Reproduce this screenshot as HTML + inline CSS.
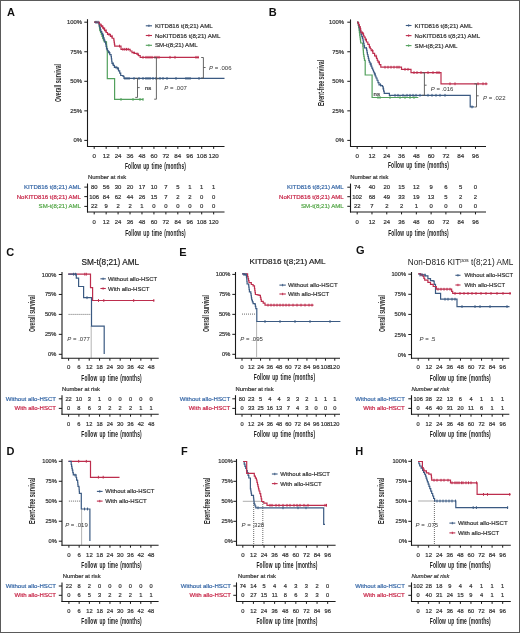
<!DOCTYPE html>
<html><head><meta charset="utf-8"><style>
html,body{margin:0;padding:0;background:#fff;overflow:hidden;}
svg{display:block;font-family:"Liberation Sans", sans-serif;will-change:transform;}
</style></head><body>
<svg width="520" height="633" viewBox="0 0 520 633">
<rect width="520" height="633" fill="#fff"/>
<text x="6.90" y="15.90" font-size="11.0" fill="#111" font-weight="bold">A</text>
<line x1="87.50" y1="19.20" x2="87.50" y2="147.00" stroke="#1a1a1a" stroke-width="1.1"/>
<line x1="87.00" y1="146.50" x2="224.50" y2="146.50" stroke="#1a1a1a" stroke-width="1.1"/>
<line x1="84.30" y1="140.40" x2="87.50" y2="140.40" stroke="#1a1a1a" stroke-width="1.0"/>
<text x="82.00" y="140.40" font-size="5.9" fill="#333" stroke="#333" stroke-width="0.2" text-anchor="end" dominant-baseline="central">0%</text>
<line x1="84.30" y1="110.85" x2="87.50" y2="110.85" stroke="#1a1a1a" stroke-width="1.0"/>
<text x="82.00" y="110.85" font-size="5.9" fill="#333" stroke="#333" stroke-width="0.2" text-anchor="end" dominant-baseline="central">25%</text>
<line x1="84.30" y1="81.30" x2="87.50" y2="81.30" stroke="#1a1a1a" stroke-width="1.0"/>
<text x="82.00" y="81.30" font-size="5.9" fill="#333" stroke="#333" stroke-width="0.2" text-anchor="end" dominant-baseline="central">50%</text>
<line x1="84.30" y1="51.75" x2="87.50" y2="51.75" stroke="#1a1a1a" stroke-width="1.0"/>
<text x="82.00" y="51.75" font-size="5.9" fill="#333" stroke="#333" stroke-width="0.2" text-anchor="end" dominant-baseline="central">75%</text>
<line x1="84.30" y1="22.20" x2="87.50" y2="22.20" stroke="#1a1a1a" stroke-width="1.0"/>
<text x="82.00" y="22.20" font-size="5.9" fill="#333" stroke="#333" stroke-width="0.2" text-anchor="end" dominant-baseline="central">100%</text>
<line x1="94.20" y1="146.50" x2="94.20" y2="148.90" stroke="#1a1a1a" stroke-width="1.0"/>
<text x="94.20" y="155.30" font-size="6.2" fill="#333" stroke="#333" stroke-width="0.2" text-anchor="middle" dominant-baseline="central">0</text>
<line x1="106.15" y1="146.50" x2="106.15" y2="148.90" stroke="#1a1a1a" stroke-width="1.0"/>
<text x="106.15" y="155.30" font-size="6.2" fill="#333" stroke="#333" stroke-width="0.2" text-anchor="middle" dominant-baseline="central">12</text>
<line x1="118.09" y1="146.50" x2="118.09" y2="148.90" stroke="#1a1a1a" stroke-width="1.0"/>
<text x="118.09" y="155.30" font-size="6.2" fill="#333" stroke="#333" stroke-width="0.2" text-anchor="middle" dominant-baseline="central">24</text>
<line x1="130.04" y1="146.50" x2="130.04" y2="148.90" stroke="#1a1a1a" stroke-width="1.0"/>
<text x="130.04" y="155.30" font-size="6.2" fill="#333" stroke="#333" stroke-width="0.2" text-anchor="middle" dominant-baseline="central">36</text>
<line x1="141.98" y1="146.50" x2="141.98" y2="148.90" stroke="#1a1a1a" stroke-width="1.0"/>
<text x="141.98" y="155.30" font-size="6.2" fill="#333" stroke="#333" stroke-width="0.2" text-anchor="middle" dominant-baseline="central">48</text>
<line x1="153.93" y1="146.50" x2="153.93" y2="148.90" stroke="#1a1a1a" stroke-width="1.0"/>
<text x="153.93" y="155.30" font-size="6.2" fill="#333" stroke="#333" stroke-width="0.2" text-anchor="middle" dominant-baseline="central">60</text>
<line x1="165.88" y1="146.50" x2="165.88" y2="148.90" stroke="#1a1a1a" stroke-width="1.0"/>
<text x="165.88" y="155.30" font-size="6.2" fill="#333" stroke="#333" stroke-width="0.2" text-anchor="middle" dominant-baseline="central">72</text>
<line x1="177.82" y1="146.50" x2="177.82" y2="148.90" stroke="#1a1a1a" stroke-width="1.0"/>
<text x="177.82" y="155.30" font-size="6.2" fill="#333" stroke="#333" stroke-width="0.2" text-anchor="middle" dominant-baseline="central">84</text>
<line x1="189.77" y1="146.50" x2="189.77" y2="148.90" stroke="#1a1a1a" stroke-width="1.0"/>
<text x="189.77" y="155.30" font-size="6.2" fill="#333" stroke="#333" stroke-width="0.2" text-anchor="middle" dominant-baseline="central">96</text>
<line x1="201.71" y1="146.50" x2="201.71" y2="148.90" stroke="#1a1a1a" stroke-width="1.0"/>
<text x="201.71" y="155.30" font-size="6.2" fill="#333" stroke="#333" stroke-width="0.2" text-anchor="middle" dominant-baseline="central">108</text>
<line x1="213.66" y1="146.50" x2="213.66" y2="148.90" stroke="#1a1a1a" stroke-width="1.0"/>
<text x="213.66" y="155.30" font-size="6.2" fill="#333" stroke="#333" stroke-width="0.2" text-anchor="middle" dominant-baseline="central">120</text>
<text x="58.70" y="83.00" font-size="8.2" fill="#2a2a2a" text-anchor="middle" font-weight="bold" textLength="38.00" lengthAdjust="spacingAndGlyphs" dominant-baseline="central" transform="rotate(-90 58.70 83.00)">Overall survival</text>
<path d="M94.20 22.20H96.50V22.40H98.80V22.60H99.05V24.60H99.30V26.60H99.55V28.60H99.80V30.60H100.55V32.50H101.30V34.40H102.00V36.35H102.70V38.30H103.40V39.95H104.10V41.60H106.00V42.10H106.50V45.00H106.70V46.92H106.90V48.85H107.10V50.78H107.30V52.70V78.70H114.60V99.40H143.30" fill="none" stroke="#52a05c" stroke-width="1.2" stroke-linejoin="miter"/>
<path d="M94.20 22.20H96.00V22.60H99.30V25.80H99.80V27.70H100.30V29.60H100.80V31.50H101.75V33.45H102.70V35.40H103.40V37.80H104.10V40.20H104.85V42.10H105.60V44.00H106.05V46.40H106.50V48.80H107.50V50.75H108.50V52.70H109.80V54.70H111.10V56.70H111.40V58.97H111.70V61.23H112.00V63.50H113.20V65.40H114.40V67.30H117.30V68.80H118.50V70.95H119.70V73.10H120.70V75.50H123.10V76.40H124.00V78.40H224.50" fill="none" stroke="#3b5a82" stroke-width="1.2" stroke-linejoin="miter"/>
<path d="M94.20 22.20H97.50H99.15V24.00H100.80V25.80H102.70V28.20H104.60V30.60H106.05V32.50H107.50V34.40H110.40V36.30H112.10V38.25H113.80V40.20H114.10V42.17H114.40V44.13H114.70V46.10H120.50H121.00V49.30H128.20H130.10V51.00H132.00V52.70H134.40V53.40H136.80V54.10H138.50V55.70H140.20V57.30H199.00" fill="none" stroke="#bd2d4d" stroke-width="1.2" stroke-linejoin="miter"/>
<line x1="101.50" y1="24.40" x2="101.50" y2="27.20" stroke="#bd2d4d" stroke-width="1.0"/>
<line x1="103.50" y1="26.80" x2="103.50" y2="29.60" stroke="#bd2d4d" stroke-width="1.0"/>
<line x1="106.00" y1="29.20" x2="106.00" y2="32.00" stroke="#bd2d4d" stroke-width="1.0"/>
<line x1="109.00" y1="33.00" x2="109.00" y2="35.80" stroke="#bd2d4d" stroke-width="1.0"/>
<line x1="112.00" y1="34.90" x2="112.00" y2="37.70" stroke="#bd2d4d" stroke-width="1.0"/>
<line x1="119.50" y1="44.70" x2="119.50" y2="47.50" stroke="#bd2d4d" stroke-width="1.0"/>
<line x1="122.90" y1="47.90" x2="122.90" y2="50.70" stroke="#bd2d4d" stroke-width="1.0"/>
<line x1="124.80" y1="47.90" x2="124.80" y2="50.70" stroke="#bd2d4d" stroke-width="1.0"/>
<line x1="126.50" y1="47.90" x2="126.50" y2="50.70" stroke="#bd2d4d" stroke-width="1.0"/>
<line x1="128.20" y1="47.90" x2="128.20" y2="50.70" stroke="#bd2d4d" stroke-width="1.0"/>
<line x1="134.00" y1="51.30" x2="134.00" y2="54.10" stroke="#bd2d4d" stroke-width="1.0"/>
<line x1="137.80" y1="52.70" x2="137.80" y2="55.50" stroke="#bd2d4d" stroke-width="1.0"/>
<line x1="103.00" y1="34.00" x2="103.00" y2="36.80" stroke="#3b5a82" stroke-width="1.0"/>
<line x1="109.50" y1="51.30" x2="109.50" y2="54.10" stroke="#3b5a82" stroke-width="1.0"/>
<line x1="113.00" y1="62.10" x2="113.00" y2="64.90" stroke="#3b5a82" stroke-width="1.0"/>
<line x1="116.00" y1="65.90" x2="116.00" y2="68.70" stroke="#3b5a82" stroke-width="1.0"/>
<line x1="118.50" y1="67.40" x2="118.50" y2="70.20" stroke="#3b5a82" stroke-width="1.0"/>
<line x1="143.00" y1="55.90" x2="143.00" y2="58.70" stroke="#bd2d4d" stroke-width="1.0"/>
<line x1="146.00" y1="55.90" x2="146.00" y2="58.70" stroke="#bd2d4d" stroke-width="1.0"/>
<line x1="148.00" y1="55.90" x2="148.00" y2="58.70" stroke="#bd2d4d" stroke-width="1.0"/>
<line x1="150.00" y1="55.90" x2="150.00" y2="58.70" stroke="#bd2d4d" stroke-width="1.0"/>
<line x1="152.00" y1="55.90" x2="152.00" y2="58.70" stroke="#bd2d4d" stroke-width="1.0"/>
<line x1="155.00" y1="55.90" x2="155.00" y2="58.70" stroke="#bd2d4d" stroke-width="1.0"/>
<line x1="157.00" y1="55.90" x2="157.00" y2="58.70" stroke="#bd2d4d" stroke-width="1.0"/>
<line x1="159.00" y1="55.90" x2="159.00" y2="58.70" stroke="#bd2d4d" stroke-width="1.0"/>
<line x1="170.00" y1="55.90" x2="170.00" y2="58.70" stroke="#bd2d4d" stroke-width="1.0"/>
<line x1="175.00" y1="55.90" x2="175.00" y2="58.70" stroke="#bd2d4d" stroke-width="1.0"/>
<line x1="196.00" y1="55.90" x2="196.00" y2="58.70" stroke="#bd2d4d" stroke-width="1.0"/>
<line x1="198.00" y1="55.90" x2="198.00" y2="58.70" stroke="#bd2d4d" stroke-width="1.0"/>
<line x1="125.00" y1="77.00" x2="125.00" y2="79.80" stroke="#3b5a82" stroke-width="1.0"/>
<line x1="127.00" y1="77.00" x2="127.00" y2="79.80" stroke="#3b5a82" stroke-width="1.0"/>
<line x1="129.00" y1="77.00" x2="129.00" y2="79.80" stroke="#3b5a82" stroke-width="1.0"/>
<line x1="134.00" y1="77.00" x2="134.00" y2="79.80" stroke="#3b5a82" stroke-width="1.0"/>
<line x1="139.00" y1="77.00" x2="139.00" y2="79.80" stroke="#3b5a82" stroke-width="1.0"/>
<line x1="143.00" y1="77.00" x2="143.00" y2="79.80" stroke="#3b5a82" stroke-width="1.0"/>
<line x1="146.00" y1="77.00" x2="146.00" y2="79.80" stroke="#3b5a82" stroke-width="1.0"/>
<line x1="148.00" y1="77.00" x2="148.00" y2="79.80" stroke="#3b5a82" stroke-width="1.0"/>
<line x1="150.00" y1="77.00" x2="150.00" y2="79.80" stroke="#3b5a82" stroke-width="1.0"/>
<line x1="153.00" y1="77.00" x2="153.00" y2="79.80" stroke="#3b5a82" stroke-width="1.0"/>
<line x1="156.00" y1="77.00" x2="156.00" y2="79.80" stroke="#3b5a82" stroke-width="1.0"/>
<line x1="160.00" y1="77.00" x2="160.00" y2="79.80" stroke="#3b5a82" stroke-width="1.0"/>
<line x1="163.00" y1="77.00" x2="163.00" y2="79.80" stroke="#3b5a82" stroke-width="1.0"/>
<line x1="167.00" y1="77.00" x2="167.00" y2="79.80" stroke="#3b5a82" stroke-width="1.0"/>
<line x1="176.00" y1="77.00" x2="176.00" y2="79.80" stroke="#3b5a82" stroke-width="1.0"/>
<line x1="186.00" y1="77.00" x2="186.00" y2="79.80" stroke="#3b5a82" stroke-width="1.0"/>
<line x1="188.00" y1="77.00" x2="188.00" y2="79.80" stroke="#3b5a82" stroke-width="1.0"/>
<line x1="190.00" y1="77.00" x2="190.00" y2="79.80" stroke="#3b5a82" stroke-width="1.0"/>
<line x1="199.00" y1="77.00" x2="199.00" y2="79.80" stroke="#3b5a82" stroke-width="1.0"/>
<line x1="121.00" y1="98.00" x2="121.00" y2="100.80" stroke="#52a05c" stroke-width="1.0"/>
<line x1="133.00" y1="98.00" x2="133.00" y2="100.80" stroke="#52a05c" stroke-width="1.0"/>
<line x1="140.00" y1="98.00" x2="140.00" y2="100.80" stroke="#52a05c" stroke-width="1.0"/>
<line x1="143.00" y1="98.00" x2="143.00" y2="100.80" stroke="#52a05c" stroke-width="1.0"/>
<line x1="96.00" y1="20.80" x2="96.00" y2="23.60" stroke="#3b5a82" stroke-width="1.0"/>
<line x1="98.00" y1="20.80" x2="98.00" y2="23.60" stroke="#3b5a82" stroke-width="1.0"/>
<line x1="135.30" y1="78.40" x2="137.50" y2="78.40" stroke="#555" stroke-width="0.9"/>
<line x1="137.50" y1="78.40" x2="137.50" y2="97.40" stroke="#555" stroke-width="0.9"/>
<line x1="135.30" y1="97.40" x2="137.50" y2="97.40" stroke="#555" stroke-width="0.9"/>
<line x1="137.50" y1="87.60" x2="139.70" y2="87.60" stroke="#555" stroke-width="0.9"/>
<text x="145.00" y="87.80" font-size="6.0" fill="#333" stroke="#333" stroke-width="0.2" dominant-baseline="central">ns</text>
<line x1="154.20" y1="57.50" x2="156.40" y2="57.50" stroke="#555" stroke-width="0.9"/>
<line x1="156.40" y1="57.50" x2="156.40" y2="99.20" stroke="#555" stroke-width="0.9"/>
<line x1="154.20" y1="99.20" x2="156.40" y2="99.20" stroke="#555" stroke-width="0.9"/>
<line x1="156.40" y1="78.80" x2="158.60" y2="78.80" stroke="#555" stroke-width="0.9"/>
<text x="164.30" y="87.60" font-size="6.0" fill="#333" dominant-baseline="central"><tspan font-style="italic">P</tspan> = .007</text>
<line x1="201.20" y1="57.50" x2="203.40" y2="57.50" stroke="#555" stroke-width="0.9"/>
<line x1="203.40" y1="57.50" x2="203.40" y2="78.00" stroke="#555" stroke-width="0.9"/>
<line x1="201.20" y1="78.00" x2="203.40" y2="78.00" stroke="#555" stroke-width="0.9"/>
<line x1="203.40" y1="67.50" x2="205.60" y2="67.50" stroke="#555" stroke-width="0.9"/>
<text x="209.00" y="67.80" font-size="6.0" fill="#333" dominant-baseline="central"><tspan font-style="italic">P</tspan> = .006</text>
<line x1="145.80" y1="25.80" x2="152.00" y2="25.80" stroke="#3b5a82" stroke-width="1.1"/>
<line x1="148.90" y1="24.60" x2="148.90" y2="27.00" stroke="#3b5a82" stroke-width="0.9"/>
<text x="154.90" y="25.80" font-size="6.0" fill="#333" stroke="#333" stroke-width="0.2" textLength="57.80" lengthAdjust="spacingAndGlyphs" dominant-baseline="central">KITD816 t(8;21) AML</text>
<line x1="145.80" y1="35.50" x2="152.00" y2="35.50" stroke="#bd2d4d" stroke-width="1.1"/>
<line x1="148.90" y1="34.30" x2="148.90" y2="36.70" stroke="#bd2d4d" stroke-width="0.9"/>
<text x="154.90" y="35.50" font-size="6.0" fill="#333" stroke="#333" stroke-width="0.2" textLength="65.50" lengthAdjust="spacingAndGlyphs" dominant-baseline="central">NoKITD816 t(8;21) AML</text>
<line x1="145.80" y1="45.30" x2="152.00" y2="45.30" stroke="#52a05c" stroke-width="1.1"/>
<line x1="148.90" y1="44.10" x2="148.90" y2="46.50" stroke="#52a05c" stroke-width="0.9"/>
<text x="154.90" y="45.30" font-size="6.0" fill="#333" stroke="#333" stroke-width="0.2" textLength="42.80" lengthAdjust="spacingAndGlyphs" dominant-baseline="central">SM-t(8;21) AML</text>
<text x="155.50" y="166.60" font-size="8.2" fill="#222" word-spacing="1.2" letter-spacing="0.2" text-anchor="middle" font-weight="bold" textLength="61.00" lengthAdjust="spacingAndGlyphs" dominant-baseline="central">Follow up time (months)</text>
<text x="88.00" y="177.00" font-size="5.9" fill="#333" stroke="#333" stroke-width="0.2" dominant-baseline="central">Number at risk</text>
<line x1="87.50" y1="183.50" x2="87.50" y2="212.50" stroke="#1a1a1a" stroke-width="1.1"/>
<line x1="87.00" y1="212.00" x2="224.50" y2="212.00" stroke="#1a1a1a" stroke-width="1.1"/>
<line x1="84.30" y1="187.10" x2="87.50" y2="187.10" stroke="#1a1a1a" stroke-width="1.0"/>
<text x="81.00" y="187.10" font-size="5.9" fill="#3a6aa8" stroke="#3a6aa8" stroke-width="0.2" text-anchor="end" textLength="57.00" lengthAdjust="spacingAndGlyphs" dominant-baseline="central">KITD816 t(8;21) AML</text>
<text x="94.20" y="187.10" font-size="5.9" fill="#333" stroke="#333" stroke-width="0.2" text-anchor="middle" dominant-baseline="central">80</text>
<text x="106.15" y="187.10" font-size="5.9" fill="#333" stroke="#333" stroke-width="0.2" text-anchor="middle" dominant-baseline="central">56</text>
<text x="118.09" y="187.10" font-size="5.9" fill="#333" stroke="#333" stroke-width="0.2" text-anchor="middle" dominant-baseline="central">30</text>
<text x="130.04" y="187.10" font-size="5.9" fill="#333" stroke="#333" stroke-width="0.2" text-anchor="middle" dominant-baseline="central">20</text>
<text x="141.98" y="187.10" font-size="5.9" fill="#333" stroke="#333" stroke-width="0.2" text-anchor="middle" dominant-baseline="central">17</text>
<text x="153.93" y="187.10" font-size="5.9" fill="#333" stroke="#333" stroke-width="0.2" text-anchor="middle" dominant-baseline="central">10</text>
<text x="165.88" y="187.10" font-size="5.9" fill="#333" stroke="#333" stroke-width="0.2" text-anchor="middle" dominant-baseline="central">7</text>
<text x="177.82" y="187.10" font-size="5.9" fill="#333" stroke="#333" stroke-width="0.2" text-anchor="middle" dominant-baseline="central">5</text>
<text x="189.77" y="187.10" font-size="5.9" fill="#333" stroke="#333" stroke-width="0.2" text-anchor="middle" dominant-baseline="central">1</text>
<text x="201.71" y="187.10" font-size="5.9" fill="#333" stroke="#333" stroke-width="0.2" text-anchor="middle" dominant-baseline="central">1</text>
<text x="213.66" y="187.10" font-size="5.9" fill="#333" stroke="#333" stroke-width="0.2" text-anchor="middle" dominant-baseline="central">1</text>
<line x1="84.30" y1="196.60" x2="87.50" y2="196.60" stroke="#1a1a1a" stroke-width="1.0"/>
<text x="81.00" y="196.60" font-size="5.9" fill="#c8284a" stroke="#c8284a" stroke-width="0.2" text-anchor="end" textLength="64.30" lengthAdjust="spacingAndGlyphs" dominant-baseline="central">NoKITD816 t(8;21) AML</text>
<text x="94.20" y="196.60" font-size="5.9" fill="#333" stroke="#333" stroke-width="0.2" text-anchor="middle" dominant-baseline="central">106</text>
<text x="106.15" y="196.60" font-size="5.9" fill="#333" stroke="#333" stroke-width="0.2" text-anchor="middle" dominant-baseline="central">84</text>
<text x="118.09" y="196.60" font-size="5.9" fill="#333" stroke="#333" stroke-width="0.2" text-anchor="middle" dominant-baseline="central">62</text>
<text x="130.04" y="196.60" font-size="5.9" fill="#333" stroke="#333" stroke-width="0.2" text-anchor="middle" dominant-baseline="central">44</text>
<text x="141.98" y="196.60" font-size="5.9" fill="#333" stroke="#333" stroke-width="0.2" text-anchor="middle" dominant-baseline="central">26</text>
<text x="153.93" y="196.60" font-size="5.9" fill="#333" stroke="#333" stroke-width="0.2" text-anchor="middle" dominant-baseline="central">15</text>
<text x="165.88" y="196.60" font-size="5.9" fill="#333" stroke="#333" stroke-width="0.2" text-anchor="middle" dominant-baseline="central">7</text>
<text x="177.82" y="196.60" font-size="5.9" fill="#333" stroke="#333" stroke-width="0.2" text-anchor="middle" dominant-baseline="central">2</text>
<text x="189.77" y="196.60" font-size="5.9" fill="#333" stroke="#333" stroke-width="0.2" text-anchor="middle" dominant-baseline="central">2</text>
<text x="201.71" y="196.60" font-size="5.9" fill="#333" stroke="#333" stroke-width="0.2" text-anchor="middle" dominant-baseline="central">0</text>
<text x="213.66" y="196.60" font-size="5.9" fill="#333" stroke="#333" stroke-width="0.2" text-anchor="middle" dominant-baseline="central">0</text>
<line x1="84.30" y1="206.40" x2="87.50" y2="206.40" stroke="#1a1a1a" stroke-width="1.0"/>
<text x="81.00" y="206.40" font-size="5.9" fill="#56a84a" stroke="#56a84a" stroke-width="0.2" text-anchor="end" textLength="42.40" lengthAdjust="spacingAndGlyphs" dominant-baseline="central">SM-t(8;21) AML</text>
<text x="94.20" y="206.40" font-size="5.9" fill="#333" stroke="#333" stroke-width="0.2" text-anchor="middle" dominant-baseline="central">22</text>
<text x="106.15" y="206.40" font-size="5.9" fill="#333" stroke="#333" stroke-width="0.2" text-anchor="middle" dominant-baseline="central">9</text>
<text x="118.09" y="206.40" font-size="5.9" fill="#333" stroke="#333" stroke-width="0.2" text-anchor="middle" dominant-baseline="central">2</text>
<text x="130.04" y="206.40" font-size="5.9" fill="#333" stroke="#333" stroke-width="0.2" text-anchor="middle" dominant-baseline="central">2</text>
<text x="141.98" y="206.40" font-size="5.9" fill="#333" stroke="#333" stroke-width="0.2" text-anchor="middle" dominant-baseline="central">1</text>
<text x="153.93" y="206.40" font-size="5.9" fill="#333" stroke="#333" stroke-width="0.2" text-anchor="middle" dominant-baseline="central">0</text>
<text x="165.88" y="206.40" font-size="5.9" fill="#333" stroke="#333" stroke-width="0.2" text-anchor="middle" dominant-baseline="central">0</text>
<text x="177.82" y="206.40" font-size="5.9" fill="#333" stroke="#333" stroke-width="0.2" text-anchor="middle" dominant-baseline="central">0</text>
<text x="189.77" y="206.40" font-size="5.9" fill="#333" stroke="#333" stroke-width="0.2" text-anchor="middle" dominant-baseline="central">0</text>
<text x="201.71" y="206.40" font-size="5.9" fill="#333" stroke="#333" stroke-width="0.2" text-anchor="middle" dominant-baseline="central">0</text>
<text x="213.66" y="206.40" font-size="5.9" fill="#333" stroke="#333" stroke-width="0.2" text-anchor="middle" dominant-baseline="central">0</text>
<line x1="94.20" y1="212.00" x2="94.20" y2="214.40" stroke="#1a1a1a" stroke-width="1.0"/>
<text x="94.20" y="221.60" font-size="5.9" fill="#333" stroke="#333" stroke-width="0.2" text-anchor="middle" dominant-baseline="central">0</text>
<line x1="106.15" y1="212.00" x2="106.15" y2="214.40" stroke="#1a1a1a" stroke-width="1.0"/>
<text x="106.15" y="221.60" font-size="5.9" fill="#333" stroke="#333" stroke-width="0.2" text-anchor="middle" dominant-baseline="central">12</text>
<line x1="118.09" y1="212.00" x2="118.09" y2="214.40" stroke="#1a1a1a" stroke-width="1.0"/>
<text x="118.09" y="221.60" font-size="5.9" fill="#333" stroke="#333" stroke-width="0.2" text-anchor="middle" dominant-baseline="central">24</text>
<line x1="130.04" y1="212.00" x2="130.04" y2="214.40" stroke="#1a1a1a" stroke-width="1.0"/>
<text x="130.04" y="221.60" font-size="5.9" fill="#333" stroke="#333" stroke-width="0.2" text-anchor="middle" dominant-baseline="central">36</text>
<line x1="141.98" y1="212.00" x2="141.98" y2="214.40" stroke="#1a1a1a" stroke-width="1.0"/>
<text x="141.98" y="221.60" font-size="5.9" fill="#333" stroke="#333" stroke-width="0.2" text-anchor="middle" dominant-baseline="central">48</text>
<line x1="153.93" y1="212.00" x2="153.93" y2="214.40" stroke="#1a1a1a" stroke-width="1.0"/>
<text x="153.93" y="221.60" font-size="5.9" fill="#333" stroke="#333" stroke-width="0.2" text-anchor="middle" dominant-baseline="central">60</text>
<line x1="165.88" y1="212.00" x2="165.88" y2="214.40" stroke="#1a1a1a" stroke-width="1.0"/>
<text x="165.88" y="221.60" font-size="5.9" fill="#333" stroke="#333" stroke-width="0.2" text-anchor="middle" dominant-baseline="central">72</text>
<line x1="177.82" y1="212.00" x2="177.82" y2="214.40" stroke="#1a1a1a" stroke-width="1.0"/>
<text x="177.82" y="221.60" font-size="5.9" fill="#333" stroke="#333" stroke-width="0.2" text-anchor="middle" dominant-baseline="central">84</text>
<line x1="189.77" y1="212.00" x2="189.77" y2="214.40" stroke="#1a1a1a" stroke-width="1.0"/>
<text x="189.77" y="221.60" font-size="5.9" fill="#333" stroke="#333" stroke-width="0.2" text-anchor="middle" dominant-baseline="central">96</text>
<line x1="201.71" y1="212.00" x2="201.71" y2="214.40" stroke="#1a1a1a" stroke-width="1.0"/>
<text x="201.71" y="221.60" font-size="5.9" fill="#333" stroke="#333" stroke-width="0.2" text-anchor="middle" dominant-baseline="central">108</text>
<line x1="213.66" y1="212.00" x2="213.66" y2="214.40" stroke="#1a1a1a" stroke-width="1.0"/>
<text x="213.66" y="221.60" font-size="5.9" fill="#333" stroke="#333" stroke-width="0.2" text-anchor="middle" dominant-baseline="central">120</text>
<text x="155.50" y="233.00" font-size="8.2" fill="#222" word-spacing="1.2" letter-spacing="0.2" text-anchor="middle" font-weight="bold" textLength="60.50" lengthAdjust="spacingAndGlyphs" dominant-baseline="central">Follow up time (months)</text>
<text x="268.80" y="16.00" font-size="11.0" fill="#111" font-weight="bold">B</text>
<line x1="350.50" y1="19.40" x2="350.50" y2="147.00" stroke="#1a1a1a" stroke-width="1.1"/>
<line x1="350.00" y1="146.50" x2="486.00" y2="146.50" stroke="#1a1a1a" stroke-width="1.1"/>
<line x1="347.30" y1="140.40" x2="350.50" y2="140.40" stroke="#1a1a1a" stroke-width="1.0"/>
<text x="344.00" y="140.40" font-size="5.9" fill="#333" stroke="#333" stroke-width="0.2" text-anchor="end" dominant-baseline="central">0%</text>
<line x1="347.30" y1="110.85" x2="350.50" y2="110.85" stroke="#1a1a1a" stroke-width="1.0"/>
<text x="344.00" y="110.85" font-size="5.9" fill="#333" stroke="#333" stroke-width="0.2" text-anchor="end" dominant-baseline="central">25%</text>
<line x1="347.30" y1="81.30" x2="350.50" y2="81.30" stroke="#1a1a1a" stroke-width="1.0"/>
<text x="344.00" y="81.30" font-size="5.9" fill="#333" stroke="#333" stroke-width="0.2" text-anchor="end" dominant-baseline="central">50%</text>
<line x1="347.30" y1="51.75" x2="350.50" y2="51.75" stroke="#1a1a1a" stroke-width="1.0"/>
<text x="344.00" y="51.75" font-size="5.9" fill="#333" stroke="#333" stroke-width="0.2" text-anchor="end" dominant-baseline="central">75%</text>
<line x1="347.30" y1="22.20" x2="350.50" y2="22.20" stroke="#1a1a1a" stroke-width="1.0"/>
<text x="344.00" y="22.20" font-size="5.9" fill="#333" stroke="#333" stroke-width="0.2" text-anchor="end" dominant-baseline="central">100%</text>
<line x1="357.20" y1="146.50" x2="357.20" y2="148.90" stroke="#1a1a1a" stroke-width="1.0"/>
<text x="357.20" y="155.30" font-size="6.2" fill="#333" stroke="#333" stroke-width="0.2" text-anchor="middle" dominant-baseline="central">0</text>
<line x1="371.98" y1="146.50" x2="371.98" y2="148.90" stroke="#1a1a1a" stroke-width="1.0"/>
<text x="371.98" y="155.30" font-size="6.2" fill="#333" stroke="#333" stroke-width="0.2" text-anchor="middle" dominant-baseline="central">12</text>
<line x1="386.77" y1="146.50" x2="386.77" y2="148.90" stroke="#1a1a1a" stroke-width="1.0"/>
<text x="386.77" y="155.30" font-size="6.2" fill="#333" stroke="#333" stroke-width="0.2" text-anchor="middle" dominant-baseline="central">24</text>
<line x1="401.55" y1="146.50" x2="401.55" y2="148.90" stroke="#1a1a1a" stroke-width="1.0"/>
<text x="401.55" y="155.30" font-size="6.2" fill="#333" stroke="#333" stroke-width="0.2" text-anchor="middle" dominant-baseline="central">36</text>
<line x1="416.34" y1="146.50" x2="416.34" y2="148.90" stroke="#1a1a1a" stroke-width="1.0"/>
<text x="416.34" y="155.30" font-size="6.2" fill="#333" stroke="#333" stroke-width="0.2" text-anchor="middle" dominant-baseline="central">48</text>
<line x1="431.12" y1="146.50" x2="431.12" y2="148.90" stroke="#1a1a1a" stroke-width="1.0"/>
<text x="431.12" y="155.30" font-size="6.2" fill="#333" stroke="#333" stroke-width="0.2" text-anchor="middle" dominant-baseline="central">60</text>
<line x1="445.90" y1="146.50" x2="445.90" y2="148.90" stroke="#1a1a1a" stroke-width="1.0"/>
<text x="445.90" y="155.30" font-size="6.2" fill="#333" stroke="#333" stroke-width="0.2" text-anchor="middle" dominant-baseline="central">72</text>
<line x1="460.69" y1="146.50" x2="460.69" y2="148.90" stroke="#1a1a1a" stroke-width="1.0"/>
<text x="460.69" y="155.30" font-size="6.2" fill="#333" stroke="#333" stroke-width="0.2" text-anchor="middle" dominant-baseline="central">84</text>
<line x1="475.47" y1="146.50" x2="475.47" y2="148.90" stroke="#1a1a1a" stroke-width="1.0"/>
<text x="475.47" y="155.30" font-size="6.2" fill="#333" stroke="#333" stroke-width="0.2" text-anchor="middle" dominant-baseline="central">96</text>
<text x="321.20" y="83.00" font-size="8.2" fill="#2a2a2a" text-anchor="middle" font-weight="bold" textLength="46.20" lengthAdjust="spacingAndGlyphs" dominant-baseline="central" transform="rotate(-90 321.20 83.00)">Event-free survival</text>
<path d="M357.20 22.20H357.80V22.80H358.25V25.20H358.70V27.60H359.03V30.17H359.37V32.73H359.70V35.30H359.97V37.20H360.23V39.10H360.50V41.00H360.70V43.00H362.60V44.00H362.85V46.40H363.10V48.80H363.23V50.70H363.37V52.60H363.50V54.50H363.83V56.43H364.17V58.37H364.50V60.30H365.20V62.20V75.00H372.10V97.50H418.30" fill="none" stroke="#52a05c" stroke-width="1.2" stroke-linejoin="miter"/>
<path d="M357.20 22.20H357.80V22.80H358.50V25.20H359.20V27.60H359.83V29.83H360.47V32.07H361.10V34.30H361.77V36.53H362.43V38.77H363.10V41.00H363.57V43.27H364.03V45.53H364.50V47.80H366.40V48.80H366.73V50.70H367.07V52.60H367.40V54.50H367.88V56.42H368.35V58.35H368.82V60.28H369.30V62.20H370.15V64.15H371.00V66.10H371.85V68.05H372.70V70.00H373.52V72.00H374.35V74.00H375.18V76.00H376.00V78.00H377.00V80.27H378.00V82.53H379.00V84.80H380.75V85.65H382.50V86.50H383.07V88.80H383.63V91.10H384.20V93.40H389.40V95.30H470.20V106.90H474.00" fill="none" stroke="#3b5a82" stroke-width="1.2" stroke-linejoin="miter"/>
<path d="M357.20 22.20H357.80V22.80H358.60V24.73H359.40V26.67H360.20V28.60H360.65V30.75H361.10V32.90H363.10V33.90H363.55V35.55H364.00V37.20H365.20V39.60H366.40V42.00H367.85V44.40H369.30V46.80H370.25V48.75H371.20V50.70H372.90V53.35H374.60V56.00H376.50V58.40H377.25V60.30H378.00V62.20H379.40V64.70H380.80V67.20H401.50V69.30H411.00V72.60H441.00V83.80H487.50" fill="none" stroke="#bd2d4d" stroke-width="1.2" stroke-linejoin="miter"/>
<line x1="362.50" y1="31.50" x2="362.50" y2="34.30" stroke="#bd2d4d" stroke-width="1.0"/>
<line x1="366.00" y1="38.20" x2="366.00" y2="41.00" stroke="#bd2d4d" stroke-width="1.0"/>
<line x1="369.50" y1="45.40" x2="369.50" y2="48.20" stroke="#bd2d4d" stroke-width="1.0"/>
<line x1="372.50" y1="49.30" x2="372.50" y2="52.10" stroke="#bd2d4d" stroke-width="1.0"/>
<line x1="376.00" y1="54.60" x2="376.00" y2="57.40" stroke="#bd2d4d" stroke-width="1.0"/>
<line x1="379.00" y1="60.80" x2="379.00" y2="63.60" stroke="#bd2d4d" stroke-width="1.0"/>
<line x1="366.50" y1="47.40" x2="366.50" y2="50.20" stroke="#3b5a82" stroke-width="1.0"/>
<line x1="371.00" y1="62.75" x2="371.00" y2="65.55" stroke="#3b5a82" stroke-width="1.0"/>
<line x1="375.00" y1="72.60" x2="375.00" y2="75.40" stroke="#3b5a82" stroke-width="1.0"/>
<line x1="380.50" y1="83.40" x2="380.50" y2="86.20" stroke="#3b5a82" stroke-width="1.0"/>
<line x1="383.50" y1="87.40" x2="383.50" y2="90.20" stroke="#3b5a82" stroke-width="1.0"/>
<line x1="385.00" y1="65.80" x2="385.00" y2="68.60" stroke="#bd2d4d" stroke-width="1.0"/>
<line x1="388.00" y1="65.80" x2="388.00" y2="68.60" stroke="#bd2d4d" stroke-width="1.0"/>
<line x1="391.00" y1="65.80" x2="391.00" y2="68.60" stroke="#bd2d4d" stroke-width="1.0"/>
<line x1="394.00" y1="65.80" x2="394.00" y2="68.60" stroke="#bd2d4d" stroke-width="1.0"/>
<line x1="397.00" y1="65.80" x2="397.00" y2="68.60" stroke="#bd2d4d" stroke-width="1.0"/>
<line x1="399.00" y1="65.80" x2="399.00" y2="68.60" stroke="#bd2d4d" stroke-width="1.0"/>
<line x1="405.00" y1="67.90" x2="405.00" y2="70.70" stroke="#bd2d4d" stroke-width="1.0"/>
<line x1="408.00" y1="67.90" x2="408.00" y2="70.70" stroke="#bd2d4d" stroke-width="1.0"/>
<line x1="414.00" y1="71.20" x2="414.00" y2="74.00" stroke="#bd2d4d" stroke-width="1.0"/>
<line x1="417.00" y1="71.20" x2="417.00" y2="74.00" stroke="#bd2d4d" stroke-width="1.0"/>
<line x1="421.00" y1="71.20" x2="421.00" y2="74.00" stroke="#bd2d4d" stroke-width="1.0"/>
<line x1="428.00" y1="71.20" x2="428.00" y2="74.00" stroke="#bd2d4d" stroke-width="1.0"/>
<line x1="433.00" y1="71.20" x2="433.00" y2="74.00" stroke="#bd2d4d" stroke-width="1.0"/>
<line x1="437.00" y1="71.20" x2="437.00" y2="74.00" stroke="#bd2d4d" stroke-width="1.0"/>
<line x1="439.00" y1="71.20" x2="439.00" y2="74.00" stroke="#bd2d4d" stroke-width="1.0"/>
<line x1="450.00" y1="82.40" x2="450.00" y2="85.20" stroke="#bd2d4d" stroke-width="1.0"/>
<line x1="455.00" y1="82.40" x2="455.00" y2="85.20" stroke="#bd2d4d" stroke-width="1.0"/>
<line x1="478.00" y1="82.40" x2="478.00" y2="85.20" stroke="#bd2d4d" stroke-width="1.0"/>
<line x1="483.00" y1="82.40" x2="483.00" y2="85.20" stroke="#bd2d4d" stroke-width="1.0"/>
<line x1="486.00" y1="82.40" x2="486.00" y2="85.20" stroke="#bd2d4d" stroke-width="1.0"/>
<line x1="395.00" y1="93.90" x2="395.00" y2="96.70" stroke="#3b5a82" stroke-width="1.0"/>
<line x1="398.00" y1="93.90" x2="398.00" y2="96.70" stroke="#3b5a82" stroke-width="1.0"/>
<line x1="403.00" y1="93.90" x2="403.00" y2="96.70" stroke="#3b5a82" stroke-width="1.0"/>
<line x1="407.00" y1="93.90" x2="407.00" y2="96.70" stroke="#3b5a82" stroke-width="1.0"/>
<line x1="410.00" y1="93.90" x2="410.00" y2="96.70" stroke="#3b5a82" stroke-width="1.0"/>
<line x1="413.00" y1="93.90" x2="413.00" y2="96.70" stroke="#3b5a82" stroke-width="1.0"/>
<line x1="416.00" y1="93.90" x2="416.00" y2="96.70" stroke="#3b5a82" stroke-width="1.0"/>
<line x1="420.00" y1="93.90" x2="420.00" y2="96.70" stroke="#3b5a82" stroke-width="1.0"/>
<line x1="428.00" y1="93.90" x2="428.00" y2="96.70" stroke="#3b5a82" stroke-width="1.0"/>
<line x1="432.00" y1="93.90" x2="432.00" y2="96.70" stroke="#3b5a82" stroke-width="1.0"/>
<line x1="436.00" y1="93.90" x2="436.00" y2="96.70" stroke="#3b5a82" stroke-width="1.0"/>
<line x1="440.00" y1="93.90" x2="440.00" y2="96.70" stroke="#3b5a82" stroke-width="1.0"/>
<line x1="445.00" y1="93.90" x2="445.00" y2="96.70" stroke="#3b5a82" stroke-width="1.0"/>
<line x1="472.00" y1="105.50" x2="472.00" y2="108.30" stroke="#3b5a82" stroke-width="1.0"/>
<line x1="378.00" y1="96.10" x2="378.00" y2="98.90" stroke="#52a05c" stroke-width="1.0"/>
<line x1="380.00" y1="96.10" x2="380.00" y2="98.90" stroke="#52a05c" stroke-width="1.0"/>
<line x1="390.00" y1="96.10" x2="390.00" y2="98.90" stroke="#52a05c" stroke-width="1.0"/>
<line x1="400.00" y1="96.10" x2="400.00" y2="98.90" stroke="#52a05c" stroke-width="1.0"/>
<line x1="405.00" y1="96.10" x2="405.00" y2="98.90" stroke="#52a05c" stroke-width="1.0"/>
<line x1="410.00" y1="96.10" x2="410.00" y2="98.90" stroke="#52a05c" stroke-width="1.0"/>
<line x1="414.00" y1="96.10" x2="414.00" y2="98.90" stroke="#52a05c" stroke-width="1.0"/>
<text x="373.60" y="93.50" font-size="6.0" fill="#333" stroke="#333" stroke-width="0.2" dominant-baseline="central">ns</text>
<line x1="422.20" y1="72.80" x2="424.40" y2="72.80" stroke="#555" stroke-width="0.9"/>
<line x1="424.40" y1="72.80" x2="424.40" y2="95.30" stroke="#555" stroke-width="0.9"/>
<line x1="422.20" y1="95.30" x2="424.40" y2="95.30" stroke="#555" stroke-width="0.9"/>
<line x1="424.40" y1="85.20" x2="426.60" y2="85.20" stroke="#555" stroke-width="0.9"/>
<text x="430.80" y="88.60" font-size="6.0" fill="#333" dominant-baseline="central"><tspan font-style="italic">P</tspan> = .016</text>
<line x1="474.30" y1="83.80" x2="476.50" y2="83.80" stroke="#555" stroke-width="0.9"/>
<line x1="476.50" y1="83.80" x2="476.50" y2="107.00" stroke="#555" stroke-width="0.9"/>
<line x1="474.30" y1="107.00" x2="476.50" y2="107.00" stroke="#555" stroke-width="0.9"/>
<line x1="476.50" y1="95.80" x2="478.70" y2="95.80" stroke="#555" stroke-width="0.9"/>
<text x="483.00" y="97.60" font-size="6.0" fill="#333" dominant-baseline="central"><tspan font-style="italic">P</tspan> = .022</text>
<line x1="405.80" y1="25.50" x2="411.50" y2="25.50" stroke="#3b5a82" stroke-width="1.1"/>
<line x1="408.65" y1="24.30" x2="408.65" y2="26.70" stroke="#3b5a82" stroke-width="0.9"/>
<text x="414.60" y="25.50" font-size="6.0" fill="#333" stroke="#333" stroke-width="0.2" textLength="57.80" lengthAdjust="spacingAndGlyphs" dominant-baseline="central">KITD816 t(8;21) AML</text>
<line x1="405.80" y1="35.60" x2="411.50" y2="35.60" stroke="#bd2d4d" stroke-width="1.1"/>
<line x1="408.65" y1="34.40" x2="408.65" y2="36.80" stroke="#bd2d4d" stroke-width="0.9"/>
<text x="414.60" y="35.60" font-size="6.0" fill="#333" stroke="#333" stroke-width="0.2" textLength="65.50" lengthAdjust="spacingAndGlyphs" dominant-baseline="central">NoKITD816 t(8;21) AML</text>
<line x1="405.80" y1="45.60" x2="411.50" y2="45.60" stroke="#52a05c" stroke-width="1.1"/>
<line x1="408.65" y1="44.40" x2="408.65" y2="46.80" stroke="#52a05c" stroke-width="0.9"/>
<text x="414.60" y="45.60" font-size="6.0" fill="#333" stroke="#333" stroke-width="0.2" textLength="42.80" lengthAdjust="spacingAndGlyphs" dominant-baseline="central">SM-t(8;21) AML</text>
<text x="418.50" y="165.50" font-size="8.2" fill="#222" word-spacing="1.2" letter-spacing="0.2" text-anchor="middle" font-weight="bold" textLength="61.00" lengthAdjust="spacingAndGlyphs" dominant-baseline="central">Follow up time (months)</text>
<text x="350.20" y="177.00" font-size="5.9" fill="#333" stroke="#333" stroke-width="0.2" dominant-baseline="central">Number at risk</text>
<line x1="350.50" y1="183.60" x2="350.50" y2="212.50" stroke="#1a1a1a" stroke-width="1.1"/>
<line x1="350.00" y1="212.00" x2="486.00" y2="212.00" stroke="#1a1a1a" stroke-width="1.1"/>
<line x1="347.30" y1="187.20" x2="350.50" y2="187.20" stroke="#1a1a1a" stroke-width="1.0"/>
<text x="343.70" y="187.20" font-size="5.9" fill="#3a6aa8" stroke="#3a6aa8" stroke-width="0.2" text-anchor="end" textLength="56.70" lengthAdjust="spacingAndGlyphs" dominant-baseline="central">KITD816 t(8;21) AML</text>
<text x="357.20" y="187.20" font-size="5.9" fill="#333" stroke="#333" stroke-width="0.2" text-anchor="middle" dominant-baseline="central">74</text>
<text x="371.98" y="187.20" font-size="5.9" fill="#333" stroke="#333" stroke-width="0.2" text-anchor="middle" dominant-baseline="central">40</text>
<text x="386.77" y="187.20" font-size="5.9" fill="#333" stroke="#333" stroke-width="0.2" text-anchor="middle" dominant-baseline="central">20</text>
<text x="401.55" y="187.20" font-size="5.9" fill="#333" stroke="#333" stroke-width="0.2" text-anchor="middle" dominant-baseline="central">15</text>
<text x="416.34" y="187.20" font-size="5.9" fill="#333" stroke="#333" stroke-width="0.2" text-anchor="middle" dominant-baseline="central">12</text>
<text x="431.12" y="187.20" font-size="5.9" fill="#333" stroke="#333" stroke-width="0.2" text-anchor="middle" dominant-baseline="central">9</text>
<text x="445.90" y="187.20" font-size="5.9" fill="#333" stroke="#333" stroke-width="0.2" text-anchor="middle" dominant-baseline="central">6</text>
<text x="460.69" y="187.20" font-size="5.9" fill="#333" stroke="#333" stroke-width="0.2" text-anchor="middle" dominant-baseline="central">5</text>
<text x="475.47" y="187.20" font-size="5.9" fill="#333" stroke="#333" stroke-width="0.2" text-anchor="middle" dominant-baseline="central">0</text>
<line x1="347.30" y1="196.70" x2="350.50" y2="196.70" stroke="#1a1a1a" stroke-width="1.0"/>
<text x="343.70" y="196.70" font-size="5.9" fill="#c8284a" stroke="#c8284a" stroke-width="0.2" text-anchor="end" textLength="64.70" lengthAdjust="spacingAndGlyphs" dominant-baseline="central">NoKITD816 t(8;21) AML</text>
<text x="357.20" y="196.70" font-size="5.9" fill="#333" stroke="#333" stroke-width="0.2" text-anchor="middle" dominant-baseline="central">102</text>
<text x="371.98" y="196.70" font-size="5.9" fill="#333" stroke="#333" stroke-width="0.2" text-anchor="middle" dominant-baseline="central">68</text>
<text x="386.77" y="196.70" font-size="5.9" fill="#333" stroke="#333" stroke-width="0.2" text-anchor="middle" dominant-baseline="central">49</text>
<text x="401.55" y="196.70" font-size="5.9" fill="#333" stroke="#333" stroke-width="0.2" text-anchor="middle" dominant-baseline="central">33</text>
<text x="416.34" y="196.70" font-size="5.9" fill="#333" stroke="#333" stroke-width="0.2" text-anchor="middle" dominant-baseline="central">19</text>
<text x="431.12" y="196.70" font-size="5.9" fill="#333" stroke="#333" stroke-width="0.2" text-anchor="middle" dominant-baseline="central">13</text>
<text x="445.90" y="196.70" font-size="5.9" fill="#333" stroke="#333" stroke-width="0.2" text-anchor="middle" dominant-baseline="central">5</text>
<text x="460.69" y="196.70" font-size="5.9" fill="#333" stroke="#333" stroke-width="0.2" text-anchor="middle" dominant-baseline="central">2</text>
<text x="475.47" y="196.70" font-size="5.9" fill="#333" stroke="#333" stroke-width="0.2" text-anchor="middle" dominant-baseline="central">2</text>
<line x1="347.30" y1="206.30" x2="350.50" y2="206.30" stroke="#1a1a1a" stroke-width="1.0"/>
<text x="343.70" y="206.30" font-size="5.9" fill="#56a84a" stroke="#56a84a" stroke-width="0.2" text-anchor="end" textLength="42.70" lengthAdjust="spacingAndGlyphs" dominant-baseline="central">SM-t(8;21) AML</text>
<text x="357.20" y="206.30" font-size="5.9" fill="#333" stroke="#333" stroke-width="0.2" text-anchor="middle" dominant-baseline="central">22</text>
<text x="371.98" y="206.30" font-size="5.9" fill="#333" stroke="#333" stroke-width="0.2" text-anchor="middle" dominant-baseline="central">7</text>
<text x="386.77" y="206.30" font-size="5.9" fill="#333" stroke="#333" stroke-width="0.2" text-anchor="middle" dominant-baseline="central">2</text>
<text x="401.55" y="206.30" font-size="5.9" fill="#333" stroke="#333" stroke-width="0.2" text-anchor="middle" dominant-baseline="central">2</text>
<text x="416.34" y="206.30" font-size="5.9" fill="#333" stroke="#333" stroke-width="0.2" text-anchor="middle" dominant-baseline="central">1</text>
<text x="431.12" y="206.30" font-size="5.9" fill="#333" stroke="#333" stroke-width="0.2" text-anchor="middle" dominant-baseline="central">0</text>
<text x="445.90" y="206.30" font-size="5.9" fill="#333" stroke="#333" stroke-width="0.2" text-anchor="middle" dominant-baseline="central">0</text>
<text x="460.69" y="206.30" font-size="5.9" fill="#333" stroke="#333" stroke-width="0.2" text-anchor="middle" dominant-baseline="central">0</text>
<text x="475.47" y="206.30" font-size="5.9" fill="#333" stroke="#333" stroke-width="0.2" text-anchor="middle" dominant-baseline="central">0</text>
<line x1="357.20" y1="212.00" x2="357.20" y2="214.40" stroke="#1a1a1a" stroke-width="1.0"/>
<text x="357.20" y="221.60" font-size="5.9" fill="#333" stroke="#333" stroke-width="0.2" text-anchor="middle" dominant-baseline="central">0</text>
<line x1="371.98" y1="212.00" x2="371.98" y2="214.40" stroke="#1a1a1a" stroke-width="1.0"/>
<text x="371.98" y="221.60" font-size="5.9" fill="#333" stroke="#333" stroke-width="0.2" text-anchor="middle" dominant-baseline="central">12</text>
<line x1="386.77" y1="212.00" x2="386.77" y2="214.40" stroke="#1a1a1a" stroke-width="1.0"/>
<text x="386.77" y="221.60" font-size="5.9" fill="#333" stroke="#333" stroke-width="0.2" text-anchor="middle" dominant-baseline="central">24</text>
<line x1="401.55" y1="212.00" x2="401.55" y2="214.40" stroke="#1a1a1a" stroke-width="1.0"/>
<text x="401.55" y="221.60" font-size="5.9" fill="#333" stroke="#333" stroke-width="0.2" text-anchor="middle" dominant-baseline="central">36</text>
<line x1="416.34" y1="212.00" x2="416.34" y2="214.40" stroke="#1a1a1a" stroke-width="1.0"/>
<text x="416.34" y="221.60" font-size="5.9" fill="#333" stroke="#333" stroke-width="0.2" text-anchor="middle" dominant-baseline="central">48</text>
<line x1="431.12" y1="212.00" x2="431.12" y2="214.40" stroke="#1a1a1a" stroke-width="1.0"/>
<text x="431.12" y="221.60" font-size="5.9" fill="#333" stroke="#333" stroke-width="0.2" text-anchor="middle" dominant-baseline="central">60</text>
<line x1="445.90" y1="212.00" x2="445.90" y2="214.40" stroke="#1a1a1a" stroke-width="1.0"/>
<text x="445.90" y="221.60" font-size="5.9" fill="#333" stroke="#333" stroke-width="0.2" text-anchor="middle" dominant-baseline="central">72</text>
<line x1="460.69" y1="212.00" x2="460.69" y2="214.40" stroke="#1a1a1a" stroke-width="1.0"/>
<text x="460.69" y="221.60" font-size="5.9" fill="#333" stroke="#333" stroke-width="0.2" text-anchor="middle" dominant-baseline="central">84</text>
<line x1="475.47" y1="212.00" x2="475.47" y2="214.40" stroke="#1a1a1a" stroke-width="1.0"/>
<text x="475.47" y="221.60" font-size="5.9" fill="#333" stroke="#333" stroke-width="0.2" text-anchor="middle" dominant-baseline="central">96</text>
<text x="418.50" y="233.00" font-size="8.2" fill="#222" word-spacing="1.2" letter-spacing="0.2" text-anchor="middle" font-weight="bold" textLength="60.50" lengthAdjust="spacingAndGlyphs" dominant-baseline="central">Follow up time (months)</text>
<text x="6.35" y="255.90" font-size="11.0" fill="#111" font-weight="bold">C</text>
<text x="110.30" y="262.00" font-size="8.2" fill="#222" stroke="#222" stroke-width="0.2" text-anchor="middle" textLength="57.70" lengthAdjust="spacingAndGlyphs" dominant-baseline="central">SM-t(8;21) AML</text>
<line x1="62.00" y1="272.00" x2="62.00" y2="358.80" stroke="#1a1a1a" stroke-width="1.1"/>
<line x1="61.50" y1="358.30" x2="158.70" y2="358.30" stroke="#1a1a1a" stroke-width="1.1"/>
<line x1="58.80" y1="354.30" x2="62.00" y2="354.30" stroke="#1a1a1a" stroke-width="1.0"/>
<text x="56.30" y="354.30" font-size="5.7" fill="#333" stroke="#333" stroke-width="0.2" text-anchor="end" dominant-baseline="central">0%</text>
<line x1="58.80" y1="334.35" x2="62.00" y2="334.35" stroke="#1a1a1a" stroke-width="1.0"/>
<text x="56.30" y="334.35" font-size="5.7" fill="#333" stroke="#333" stroke-width="0.2" text-anchor="end" dominant-baseline="central">25%</text>
<line x1="58.80" y1="314.40" x2="62.00" y2="314.40" stroke="#1a1a1a" stroke-width="1.0"/>
<text x="56.30" y="314.40" font-size="5.7" fill="#333" stroke="#333" stroke-width="0.2" text-anchor="end" dominant-baseline="central">50%</text>
<line x1="58.80" y1="294.45" x2="62.00" y2="294.45" stroke="#1a1a1a" stroke-width="1.0"/>
<text x="56.30" y="294.45" font-size="5.7" fill="#333" stroke="#333" stroke-width="0.2" text-anchor="end" dominant-baseline="central">75%</text>
<line x1="58.80" y1="274.50" x2="62.00" y2="274.50" stroke="#1a1a1a" stroke-width="1.0"/>
<text x="56.30" y="274.50" font-size="5.7" fill="#333" stroke="#333" stroke-width="0.2" text-anchor="end" dominant-baseline="central">100%</text>
<line x1="68.60" y1="358.30" x2="68.60" y2="360.70" stroke="#1a1a1a" stroke-width="1.0"/>
<text x="68.60" y="367.10" font-size="6.0" fill="#333" stroke="#333" stroke-width="0.2" text-anchor="middle" dominant-baseline="central">0</text>
<line x1="78.92" y1="358.30" x2="78.92" y2="360.70" stroke="#1a1a1a" stroke-width="1.0"/>
<text x="78.92" y="367.10" font-size="6.0" fill="#333" stroke="#333" stroke-width="0.2" text-anchor="middle" dominant-baseline="central">6</text>
<line x1="89.24" y1="358.30" x2="89.24" y2="360.70" stroke="#1a1a1a" stroke-width="1.0"/>
<text x="89.24" y="367.10" font-size="6.0" fill="#333" stroke="#333" stroke-width="0.2" text-anchor="middle" dominant-baseline="central">12</text>
<line x1="99.56" y1="358.30" x2="99.56" y2="360.70" stroke="#1a1a1a" stroke-width="1.0"/>
<text x="99.56" y="367.10" font-size="6.0" fill="#333" stroke="#333" stroke-width="0.2" text-anchor="middle" dominant-baseline="central">18</text>
<line x1="109.88" y1="358.30" x2="109.88" y2="360.70" stroke="#1a1a1a" stroke-width="1.0"/>
<text x="109.88" y="367.10" font-size="6.0" fill="#333" stroke="#333" stroke-width="0.2" text-anchor="middle" dominant-baseline="central">24</text>
<line x1="120.20" y1="358.30" x2="120.20" y2="360.70" stroke="#1a1a1a" stroke-width="1.0"/>
<text x="120.20" y="367.10" font-size="6.0" fill="#333" stroke="#333" stroke-width="0.2" text-anchor="middle" dominant-baseline="central">30</text>
<line x1="130.52" y1="358.30" x2="130.52" y2="360.70" stroke="#1a1a1a" stroke-width="1.0"/>
<text x="130.52" y="367.10" font-size="6.0" fill="#333" stroke="#333" stroke-width="0.2" text-anchor="middle" dominant-baseline="central">36</text>
<line x1="140.84" y1="358.30" x2="140.84" y2="360.70" stroke="#1a1a1a" stroke-width="1.0"/>
<text x="140.84" y="367.10" font-size="6.0" fill="#333" stroke="#333" stroke-width="0.2" text-anchor="middle" dominant-baseline="central">42</text>
<line x1="151.16" y1="358.30" x2="151.16" y2="360.70" stroke="#1a1a1a" stroke-width="1.0"/>
<text x="151.16" y="367.10" font-size="6.0" fill="#333" stroke="#333" stroke-width="0.2" text-anchor="middle" dominant-baseline="central">48</text>
<text x="32.70" y="313.50" font-size="8.2" fill="#2a2a2a" text-anchor="middle" font-weight="bold" textLength="37.00" lengthAdjust="spacingAndGlyphs" dominant-baseline="central" transform="rotate(-90 32.70 313.50)">Overall survival</text>
<line x1="68.60" y1="314.40" x2="90.80" y2="314.40" stroke="#444" stroke-width="0.8" stroke-dasharray="1,1"/>
<line x1="91.20" y1="326.50" x2="91.20" y2="357.50" stroke="#444" stroke-width="0.8" stroke-dasharray="1,1"/>
<path d="M68.20 274.20H90.50V287.60H92.60V300.50H154.20" fill="none" stroke="#bd2d4d" stroke-width="1.2" stroke-linejoin="miter"/>
<path d="M68.20 274.20H76.30V278.20H77.80H78.60V279.50V286.50H83.60V297.60H91.50V326.20H104.20V354.00" fill="none" stroke="#3b5a82" stroke-width="1.2" stroke-linejoin="miter"/>
<line x1="84.80" y1="272.80" x2="84.80" y2="275.60" stroke="#bd2d4d" stroke-width="1.0"/>
<line x1="86.30" y1="272.80" x2="86.30" y2="275.60" stroke="#bd2d4d" stroke-width="1.0"/>
<line x1="98.50" y1="299.10" x2="98.50" y2="301.90" stroke="#bd2d4d" stroke-width="1.0"/>
<line x1="103.80" y1="299.10" x2="103.80" y2="301.90" stroke="#bd2d4d" stroke-width="1.0"/>
<line x1="133.70" y1="299.10" x2="133.70" y2="301.90" stroke="#bd2d4d" stroke-width="1.0"/>
<line x1="153.80" y1="299.10" x2="153.80" y2="301.90" stroke="#bd2d4d" stroke-width="1.0"/>
<line x1="73.60" y1="272.80" x2="73.60" y2="275.60" stroke="#3b5a82" stroke-width="1.0"/>
<line x1="75.50" y1="272.80" x2="75.50" y2="275.60" stroke="#3b5a82" stroke-width="1.0"/>
<line x1="87.00" y1="296.30" x2="87.00" y2="299.10" stroke="#3b5a82" stroke-width="1.0"/>
<text x="67.30" y="338.50" font-size="6.0" fill="#333" dominant-baseline="central"><tspan font-style="italic">P</tspan> = .077</text>
<line x1="100.40" y1="278.80" x2="105.80" y2="278.80" stroke="#3b5a82" stroke-width="1.1"/>
<line x1="103.10" y1="277.60" x2="103.10" y2="280.00" stroke="#3b5a82" stroke-width="0.9"/>
<text x="108.00" y="278.80" font-size="6.0" fill="#333" stroke="#333" stroke-width="0.2" textLength="49.10" lengthAdjust="spacingAndGlyphs" dominant-baseline="central">Without allo-HSCT</text>
<line x1="100.40" y1="288.50" x2="105.80" y2="288.50" stroke="#bd2d4d" stroke-width="1.1"/>
<line x1="103.10" y1="287.30" x2="103.10" y2="289.70" stroke="#bd2d4d" stroke-width="0.9"/>
<text x="108.00" y="288.50" font-size="6.0" fill="#333" stroke="#333" stroke-width="0.2" textLength="41.40" lengthAdjust="spacingAndGlyphs" dominant-baseline="central">With allo-HSCT</text>
<text x="111.50" y="378.20" font-size="8.2" fill="#222" word-spacing="1.2" letter-spacing="0.2" text-anchor="middle" font-weight="bold" textLength="60.30" lengthAdjust="spacingAndGlyphs" dominant-baseline="central">Follow up time (months)</text>
<text x="62.00" y="389.00" font-size="5.7" fill="#333" stroke="#333" stroke-width="0.2" textLength="38.00" lengthAdjust="spacingAndGlyphs" dominant-baseline="central">Number at risk</text>
<line x1="62.00" y1="395.20" x2="62.00" y2="414.80" stroke="#1a1a1a" stroke-width="1.1"/>
<line x1="61.50" y1="414.30" x2="158.70" y2="414.30" stroke="#1a1a1a" stroke-width="1.1"/>
<line x1="58.80" y1="398.80" x2="62.00" y2="398.80" stroke="#1a1a1a" stroke-width="1.0"/>
<text x="56.00" y="398.80" font-size="5.7" fill="#3a6aa8" stroke="#3a6aa8" stroke-width="0.2" text-anchor="end" textLength="50.30" lengthAdjust="spacingAndGlyphs" dominant-baseline="central">Without allo-HSCT</text>
<text x="68.60" y="398.80" font-size="5.7" fill="#333" stroke="#333" stroke-width="0.2" text-anchor="middle" dominant-baseline="central">22</text>
<text x="78.92" y="398.80" font-size="5.7" fill="#333" stroke="#333" stroke-width="0.2" text-anchor="middle" dominant-baseline="central">10</text>
<text x="89.24" y="398.80" font-size="5.7" fill="#333" stroke="#333" stroke-width="0.2" text-anchor="middle" dominant-baseline="central">3</text>
<text x="99.56" y="398.80" font-size="5.7" fill="#333" stroke="#333" stroke-width="0.2" text-anchor="middle" dominant-baseline="central">1</text>
<text x="109.88" y="398.80" font-size="5.7" fill="#333" stroke="#333" stroke-width="0.2" text-anchor="middle" dominant-baseline="central">0</text>
<text x="120.20" y="398.80" font-size="5.7" fill="#333" stroke="#333" stroke-width="0.2" text-anchor="middle" dominant-baseline="central">0</text>
<text x="130.52" y="398.80" font-size="5.7" fill="#333" stroke="#333" stroke-width="0.2" text-anchor="middle" dominant-baseline="central">0</text>
<text x="140.84" y="398.80" font-size="5.7" fill="#333" stroke="#333" stroke-width="0.2" text-anchor="middle" dominant-baseline="central">0</text>
<text x="151.16" y="398.80" font-size="5.7" fill="#333" stroke="#333" stroke-width="0.2" text-anchor="middle" dominant-baseline="central">0</text>
<line x1="58.80" y1="408.40" x2="62.00" y2="408.40" stroke="#1a1a1a" stroke-width="1.0"/>
<text x="56.00" y="408.40" font-size="5.7" fill="#c8284a" stroke="#c8284a" stroke-width="0.2" text-anchor="end" textLength="41.50" lengthAdjust="spacingAndGlyphs" dominant-baseline="central">With allo-HSCT</text>
<text x="68.60" y="408.40" font-size="5.7" fill="#333" stroke="#333" stroke-width="0.2" text-anchor="middle" dominant-baseline="central">0</text>
<text x="78.92" y="408.40" font-size="5.7" fill="#333" stroke="#333" stroke-width="0.2" text-anchor="middle" dominant-baseline="central">8</text>
<text x="89.24" y="408.40" font-size="5.7" fill="#333" stroke="#333" stroke-width="0.2" text-anchor="middle" dominant-baseline="central">6</text>
<text x="99.56" y="408.40" font-size="5.7" fill="#333" stroke="#333" stroke-width="0.2" text-anchor="middle" dominant-baseline="central">3</text>
<text x="109.88" y="408.40" font-size="5.7" fill="#333" stroke="#333" stroke-width="0.2" text-anchor="middle" dominant-baseline="central">2</text>
<text x="120.20" y="408.40" font-size="5.7" fill="#333" stroke="#333" stroke-width="0.2" text-anchor="middle" dominant-baseline="central">2</text>
<text x="130.52" y="408.40" font-size="5.7" fill="#333" stroke="#333" stroke-width="0.2" text-anchor="middle" dominant-baseline="central">2</text>
<text x="140.84" y="408.40" font-size="5.7" fill="#333" stroke="#333" stroke-width="0.2" text-anchor="middle" dominant-baseline="central">1</text>
<text x="151.16" y="408.40" font-size="5.7" fill="#333" stroke="#333" stroke-width="0.2" text-anchor="middle" dominant-baseline="central">1</text>
<line x1="68.60" y1="414.30" x2="68.60" y2="416.70" stroke="#1a1a1a" stroke-width="1.0"/>
<text x="68.60" y="423.50" font-size="5.7" fill="#333" stroke="#333" stroke-width="0.2" text-anchor="middle" dominant-baseline="central">0</text>
<line x1="78.92" y1="414.30" x2="78.92" y2="416.70" stroke="#1a1a1a" stroke-width="1.0"/>
<text x="78.92" y="423.50" font-size="5.7" fill="#333" stroke="#333" stroke-width="0.2" text-anchor="middle" dominant-baseline="central">6</text>
<line x1="89.24" y1="414.30" x2="89.24" y2="416.70" stroke="#1a1a1a" stroke-width="1.0"/>
<text x="89.24" y="423.50" font-size="5.7" fill="#333" stroke="#333" stroke-width="0.2" text-anchor="middle" dominant-baseline="central">12</text>
<line x1="99.56" y1="414.30" x2="99.56" y2="416.70" stroke="#1a1a1a" stroke-width="1.0"/>
<text x="99.56" y="423.50" font-size="5.7" fill="#333" stroke="#333" stroke-width="0.2" text-anchor="middle" dominant-baseline="central">18</text>
<line x1="109.88" y1="414.30" x2="109.88" y2="416.70" stroke="#1a1a1a" stroke-width="1.0"/>
<text x="109.88" y="423.50" font-size="5.7" fill="#333" stroke="#333" stroke-width="0.2" text-anchor="middle" dominant-baseline="central">24</text>
<line x1="120.20" y1="414.30" x2="120.20" y2="416.70" stroke="#1a1a1a" stroke-width="1.0"/>
<text x="120.20" y="423.50" font-size="5.7" fill="#333" stroke="#333" stroke-width="0.2" text-anchor="middle" dominant-baseline="central">30</text>
<line x1="130.52" y1="414.30" x2="130.52" y2="416.70" stroke="#1a1a1a" stroke-width="1.0"/>
<text x="130.52" y="423.50" font-size="5.7" fill="#333" stroke="#333" stroke-width="0.2" text-anchor="middle" dominant-baseline="central">36</text>
<line x1="140.84" y1="414.30" x2="140.84" y2="416.70" stroke="#1a1a1a" stroke-width="1.0"/>
<text x="140.84" y="423.50" font-size="5.7" fill="#333" stroke="#333" stroke-width="0.2" text-anchor="middle" dominant-baseline="central">42</text>
<line x1="151.16" y1="414.30" x2="151.16" y2="416.70" stroke="#1a1a1a" stroke-width="1.0"/>
<text x="151.16" y="423.50" font-size="5.7" fill="#333" stroke="#333" stroke-width="0.2" text-anchor="middle" dominant-baseline="central">48</text>
<text x="111.50" y="434.80" font-size="8.2" fill="#222" word-spacing="1.2" letter-spacing="0.2" text-anchor="middle" font-weight="bold" textLength="60.30" lengthAdjust="spacingAndGlyphs" dominant-baseline="central">Follow up time (months)</text>
<text x="179.30" y="255.90" font-size="11.0" fill="#111" font-weight="bold">E</text>
<text x="287.60" y="261.80" font-size="8.1" fill="#222" stroke="#222" stroke-width="0.2" text-anchor="middle" textLength="76.00" lengthAdjust="spacingAndGlyphs" dominant-baseline="central">KITD816 t(8;21) AML</text>
<line x1="235.50" y1="272.00" x2="235.50" y2="358.80" stroke="#1a1a1a" stroke-width="1.1"/>
<line x1="235.00" y1="358.30" x2="340.00" y2="358.30" stroke="#1a1a1a" stroke-width="1.1"/>
<line x1="232.30" y1="354.30" x2="235.50" y2="354.30" stroke="#1a1a1a" stroke-width="1.0"/>
<text x="230.30" y="354.30" font-size="5.7" fill="#333" stroke="#333" stroke-width="0.2" text-anchor="end" dominant-baseline="central">0%</text>
<line x1="232.30" y1="334.32" x2="235.50" y2="334.32" stroke="#1a1a1a" stroke-width="1.0"/>
<text x="230.30" y="334.32" font-size="5.7" fill="#333" stroke="#333" stroke-width="0.2" text-anchor="end" dominant-baseline="central">25%</text>
<line x1="232.30" y1="314.35" x2="235.50" y2="314.35" stroke="#1a1a1a" stroke-width="1.0"/>
<text x="230.30" y="314.35" font-size="5.7" fill="#333" stroke="#333" stroke-width="0.2" text-anchor="end" dominant-baseline="central">50%</text>
<line x1="232.30" y1="294.38" x2="235.50" y2="294.38" stroke="#1a1a1a" stroke-width="1.0"/>
<text x="230.30" y="294.38" font-size="5.7" fill="#333" stroke="#333" stroke-width="0.2" text-anchor="end" dominant-baseline="central">75%</text>
<line x1="232.30" y1="274.40" x2="235.50" y2="274.40" stroke="#1a1a1a" stroke-width="1.0"/>
<text x="230.30" y="274.40" font-size="5.7" fill="#333" stroke="#333" stroke-width="0.2" text-anchor="end" dominant-baseline="central">100%</text>
<line x1="242.00" y1="358.30" x2="242.00" y2="360.70" stroke="#1a1a1a" stroke-width="1.0"/>
<text x="242.00" y="367.10" font-size="6.0" fill="#333" stroke="#333" stroke-width="0.2" text-anchor="middle" dominant-baseline="central">0</text>
<line x1="251.28" y1="358.30" x2="251.28" y2="360.70" stroke="#1a1a1a" stroke-width="1.0"/>
<text x="251.28" y="367.10" font-size="6.0" fill="#333" stroke="#333" stroke-width="0.2" text-anchor="middle" dominant-baseline="central">12</text>
<line x1="260.55" y1="358.30" x2="260.55" y2="360.70" stroke="#1a1a1a" stroke-width="1.0"/>
<text x="260.55" y="367.10" font-size="6.0" fill="#333" stroke="#333" stroke-width="0.2" text-anchor="middle" dominant-baseline="central">24</text>
<line x1="269.83" y1="358.30" x2="269.83" y2="360.70" stroke="#1a1a1a" stroke-width="1.0"/>
<text x="269.83" y="367.10" font-size="6.0" fill="#333" stroke="#333" stroke-width="0.2" text-anchor="middle" dominant-baseline="central">36</text>
<line x1="279.10" y1="358.30" x2="279.10" y2="360.70" stroke="#1a1a1a" stroke-width="1.0"/>
<text x="279.10" y="367.10" font-size="6.0" fill="#333" stroke="#333" stroke-width="0.2" text-anchor="middle" dominant-baseline="central">48</text>
<line x1="288.38" y1="358.30" x2="288.38" y2="360.70" stroke="#1a1a1a" stroke-width="1.0"/>
<text x="288.38" y="367.10" font-size="6.0" fill="#333" stroke="#333" stroke-width="0.2" text-anchor="middle" dominant-baseline="central">60</text>
<line x1="297.66" y1="358.30" x2="297.66" y2="360.70" stroke="#1a1a1a" stroke-width="1.0"/>
<text x="297.66" y="367.10" font-size="6.0" fill="#333" stroke="#333" stroke-width="0.2" text-anchor="middle" dominant-baseline="central">72</text>
<line x1="306.93" y1="358.30" x2="306.93" y2="360.70" stroke="#1a1a1a" stroke-width="1.0"/>
<text x="306.93" y="367.10" font-size="6.0" fill="#333" stroke="#333" stroke-width="0.2" text-anchor="middle" dominant-baseline="central">84</text>
<line x1="316.21" y1="358.30" x2="316.21" y2="360.70" stroke="#1a1a1a" stroke-width="1.0"/>
<text x="316.21" y="367.10" font-size="6.0" fill="#333" stroke="#333" stroke-width="0.2" text-anchor="middle" dominant-baseline="central">96</text>
<line x1="325.48" y1="358.30" x2="325.48" y2="360.70" stroke="#1a1a1a" stroke-width="1.0"/>
<text x="325.48" y="367.10" font-size="6.0" fill="#333" stroke="#333" stroke-width="0.2" text-anchor="middle" dominant-baseline="central">108</text>
<line x1="334.76" y1="358.30" x2="334.76" y2="360.70" stroke="#1a1a1a" stroke-width="1.0"/>
<text x="334.76" y="367.10" font-size="6.0" fill="#333" stroke="#333" stroke-width="0.2" text-anchor="middle" dominant-baseline="central">120</text>
<text x="206.00" y="313.50" font-size="8.2" fill="#2a2a2a" text-anchor="middle" font-weight="bold" textLength="37.00" lengthAdjust="spacingAndGlyphs" dominant-baseline="central" transform="rotate(-90 206.00 313.50)">Overall survival</text>
<line x1="242.00" y1="314.10" x2="256.20" y2="314.10" stroke="#444" stroke-width="0.8" stroke-dasharray="1,1"/>
<line x1="256.60" y1="321.50" x2="256.60" y2="357.30" stroke="#444" stroke-width="0.8" stroke-dasharray="1,1"/>
<path d="M242.10 273.90H246.70H247.60V276.70H248.07V278.67H248.53V280.63H249.00V282.60H251.30V284.50H253.10V285.80H254.50V288.60H254.80V290.57H255.10V292.53H255.40V294.50H257.20V294.95H259.00V295.40H260.40V297.30H260.85V299.35H261.30V301.40H263.20V303.20H265.00V305.10H313.50" fill="none" stroke="#bd2d4d" stroke-width="1.2" stroke-linejoin="miter"/>
<path d="M242.10 273.90H244.15V274.60H246.20V275.30H246.45V277.15H246.70V279.00H246.90V281.50H247.10V284.00H248.50V284.90H248.80V287.20H249.10V289.50H249.40V291.80H250.80V293.60H251.10V295.73H251.40V297.87H251.70V300.00H252.40V301.85H253.10V303.70H254.90V304.10H255.35V306.40H255.80V308.70H256.80V309.60V321.50H340.40" fill="none" stroke="#3b5a82" stroke-width="1.2" stroke-linejoin="miter"/>
<line x1="268.00" y1="303.70" x2="268.00" y2="306.50" stroke="#bd2d4d" stroke-width="1.0"/>
<line x1="271.00" y1="303.70" x2="271.00" y2="306.50" stroke="#bd2d4d" stroke-width="1.0"/>
<line x1="274.00" y1="303.70" x2="274.00" y2="306.50" stroke="#bd2d4d" stroke-width="1.0"/>
<line x1="277.00" y1="303.70" x2="277.00" y2="306.50" stroke="#bd2d4d" stroke-width="1.0"/>
<line x1="280.00" y1="303.70" x2="280.00" y2="306.50" stroke="#bd2d4d" stroke-width="1.0"/>
<line x1="283.00" y1="303.70" x2="283.00" y2="306.50" stroke="#bd2d4d" stroke-width="1.0"/>
<line x1="286.00" y1="303.70" x2="286.00" y2="306.50" stroke="#bd2d4d" stroke-width="1.0"/>
<line x1="289.00" y1="303.70" x2="289.00" y2="306.50" stroke="#bd2d4d" stroke-width="1.0"/>
<line x1="293.00" y1="303.70" x2="293.00" y2="306.50" stroke="#bd2d4d" stroke-width="1.0"/>
<line x1="297.00" y1="303.70" x2="297.00" y2="306.50" stroke="#bd2d4d" stroke-width="1.0"/>
<line x1="301.00" y1="303.70" x2="301.00" y2="306.50" stroke="#bd2d4d" stroke-width="1.0"/>
<line x1="305.00" y1="303.70" x2="305.00" y2="306.50" stroke="#bd2d4d" stroke-width="1.0"/>
<line x1="309.00" y1="303.70" x2="309.00" y2="306.50" stroke="#bd2d4d" stroke-width="1.0"/>
<line x1="312.00" y1="303.70" x2="312.00" y2="306.50" stroke="#bd2d4d" stroke-width="1.0"/>
<line x1="265.00" y1="320.10" x2="265.00" y2="322.90" stroke="#3b5a82" stroke-width="1.0"/>
<line x1="280.00" y1="320.10" x2="280.00" y2="322.90" stroke="#3b5a82" stroke-width="1.0"/>
<line x1="295.00" y1="320.10" x2="295.00" y2="322.90" stroke="#3b5a82" stroke-width="1.0"/>
<line x1="310.00" y1="320.10" x2="310.00" y2="322.90" stroke="#3b5a82" stroke-width="1.0"/>
<line x1="330.00" y1="320.10" x2="330.00" y2="322.90" stroke="#3b5a82" stroke-width="1.0"/>
<line x1="244.00" y1="273.00" x2="244.00" y2="275.80" stroke="#3b5a82" stroke-width="1.0"/>
<line x1="246.00" y1="273.00" x2="246.00" y2="275.80" stroke="#3b5a82" stroke-width="1.0"/>
<text x="240.30" y="339.00" font-size="6.0" fill="#333" dominant-baseline="central"><tspan font-style="italic">P</tspan> = .095</text>
<line x1="279.40" y1="285.10" x2="285.80" y2="285.10" stroke="#3b5a82" stroke-width="1.1"/>
<line x1="282.60" y1="283.90" x2="282.60" y2="286.30" stroke="#3b5a82" stroke-width="0.9"/>
<text x="287.90" y="285.10" font-size="6.0" fill="#333" stroke="#333" stroke-width="0.2" textLength="49.70" lengthAdjust="spacingAndGlyphs" dominant-baseline="central">Without allo-HSCT</text>
<line x1="279.40" y1="294.00" x2="285.80" y2="294.00" stroke="#bd2d4d" stroke-width="1.1"/>
<line x1="282.60" y1="292.80" x2="282.60" y2="295.20" stroke="#bd2d4d" stroke-width="0.9"/>
<text x="287.90" y="294.00" font-size="6.0" fill="#333" stroke="#333" stroke-width="0.2" textLength="41.40" lengthAdjust="spacingAndGlyphs" dominant-baseline="central">With allo-HSCT</text>
<text x="284.50" y="377.80" font-size="8.2" fill="#222" word-spacing="1.2" letter-spacing="0.2" text-anchor="middle" font-weight="bold" textLength="61.30" lengthAdjust="spacingAndGlyphs" dominant-baseline="central">Follow up time (months)</text>
<text x="235.60" y="389.40" font-size="5.7" fill="#333" stroke="#333" stroke-width="0.2" textLength="38.00" lengthAdjust="spacingAndGlyphs" dominant-baseline="central">Number at risk</text>
<line x1="235.50" y1="395.20" x2="235.50" y2="414.80" stroke="#1a1a1a" stroke-width="1.1"/>
<line x1="235.00" y1="414.30" x2="340.00" y2="414.30" stroke="#1a1a1a" stroke-width="1.1"/>
<line x1="232.30" y1="398.80" x2="235.50" y2="398.80" stroke="#1a1a1a" stroke-width="1.0"/>
<text x="230.20" y="398.80" font-size="5.7" fill="#3a6aa8" stroke="#3a6aa8" stroke-width="0.2" text-anchor="end" textLength="50.50" lengthAdjust="spacingAndGlyphs" dominant-baseline="central">Without allo-HSCT</text>
<text x="242.00" y="398.80" font-size="5.7" fill="#333" stroke="#333" stroke-width="0.2" text-anchor="middle" dominant-baseline="central">80</text>
<text x="251.28" y="398.80" font-size="5.7" fill="#333" stroke="#333" stroke-width="0.2" text-anchor="middle" dominant-baseline="central">23</text>
<text x="260.55" y="398.80" font-size="5.7" fill="#333" stroke="#333" stroke-width="0.2" text-anchor="middle" dominant-baseline="central">5</text>
<text x="269.83" y="398.80" font-size="5.7" fill="#333" stroke="#333" stroke-width="0.2" text-anchor="middle" dominant-baseline="central">4</text>
<text x="279.10" y="398.80" font-size="5.7" fill="#333" stroke="#333" stroke-width="0.2" text-anchor="middle" dominant-baseline="central">4</text>
<text x="288.38" y="398.80" font-size="5.7" fill="#333" stroke="#333" stroke-width="0.2" text-anchor="middle" dominant-baseline="central">3</text>
<text x="297.66" y="398.80" font-size="5.7" fill="#333" stroke="#333" stroke-width="0.2" text-anchor="middle" dominant-baseline="central">3</text>
<text x="306.93" y="398.80" font-size="5.7" fill="#333" stroke="#333" stroke-width="0.2" text-anchor="middle" dominant-baseline="central">2</text>
<text x="316.21" y="398.80" font-size="5.7" fill="#333" stroke="#333" stroke-width="0.2" text-anchor="middle" dominant-baseline="central">1</text>
<text x="325.48" y="398.80" font-size="5.7" fill="#333" stroke="#333" stroke-width="0.2" text-anchor="middle" dominant-baseline="central">1</text>
<text x="334.76" y="398.80" font-size="5.7" fill="#333" stroke="#333" stroke-width="0.2" text-anchor="middle" dominant-baseline="central">1</text>
<line x1="232.30" y1="408.40" x2="235.50" y2="408.40" stroke="#1a1a1a" stroke-width="1.0"/>
<text x="230.20" y="408.40" font-size="5.7" fill="#c8284a" stroke="#c8284a" stroke-width="0.2" text-anchor="end" textLength="41.50" lengthAdjust="spacingAndGlyphs" dominant-baseline="central">With allo-HSCT</text>
<text x="242.00" y="408.40" font-size="5.7" fill="#333" stroke="#333" stroke-width="0.2" text-anchor="middle" dominant-baseline="central">0</text>
<text x="251.28" y="408.40" font-size="5.7" fill="#333" stroke="#333" stroke-width="0.2" text-anchor="middle" dominant-baseline="central">33</text>
<text x="260.55" y="408.40" font-size="5.7" fill="#333" stroke="#333" stroke-width="0.2" text-anchor="middle" dominant-baseline="central">25</text>
<text x="269.83" y="408.40" font-size="5.7" fill="#333" stroke="#333" stroke-width="0.2" text-anchor="middle" dominant-baseline="central">16</text>
<text x="279.10" y="408.40" font-size="5.7" fill="#333" stroke="#333" stroke-width="0.2" text-anchor="middle" dominant-baseline="central">13</text>
<text x="288.38" y="408.40" font-size="5.7" fill="#333" stroke="#333" stroke-width="0.2" text-anchor="middle" dominant-baseline="central">7</text>
<text x="297.66" y="408.40" font-size="5.7" fill="#333" stroke="#333" stroke-width="0.2" text-anchor="middle" dominant-baseline="central">4</text>
<text x="306.93" y="408.40" font-size="5.7" fill="#333" stroke="#333" stroke-width="0.2" text-anchor="middle" dominant-baseline="central">3</text>
<text x="316.21" y="408.40" font-size="5.7" fill="#333" stroke="#333" stroke-width="0.2" text-anchor="middle" dominant-baseline="central">0</text>
<text x="325.48" y="408.40" font-size="5.7" fill="#333" stroke="#333" stroke-width="0.2" text-anchor="middle" dominant-baseline="central">0</text>
<text x="334.76" y="408.40" font-size="5.7" fill="#333" stroke="#333" stroke-width="0.2" text-anchor="middle" dominant-baseline="central">0</text>
<line x1="242.00" y1="414.30" x2="242.00" y2="416.70" stroke="#1a1a1a" stroke-width="1.0"/>
<text x="242.00" y="423.60" font-size="5.7" fill="#333" stroke="#333" stroke-width="0.2" text-anchor="middle" dominant-baseline="central">0</text>
<line x1="251.28" y1="414.30" x2="251.28" y2="416.70" stroke="#1a1a1a" stroke-width="1.0"/>
<text x="251.28" y="423.60" font-size="5.7" fill="#333" stroke="#333" stroke-width="0.2" text-anchor="middle" dominant-baseline="central">12</text>
<line x1="260.55" y1="414.30" x2="260.55" y2="416.70" stroke="#1a1a1a" stroke-width="1.0"/>
<text x="260.55" y="423.60" font-size="5.7" fill="#333" stroke="#333" stroke-width="0.2" text-anchor="middle" dominant-baseline="central">24</text>
<line x1="269.83" y1="414.30" x2="269.83" y2="416.70" stroke="#1a1a1a" stroke-width="1.0"/>
<text x="269.83" y="423.60" font-size="5.7" fill="#333" stroke="#333" stroke-width="0.2" text-anchor="middle" dominant-baseline="central">36</text>
<line x1="279.10" y1="414.30" x2="279.10" y2="416.70" stroke="#1a1a1a" stroke-width="1.0"/>
<text x="279.10" y="423.60" font-size="5.7" fill="#333" stroke="#333" stroke-width="0.2" text-anchor="middle" dominant-baseline="central">48</text>
<line x1="288.38" y1="414.30" x2="288.38" y2="416.70" stroke="#1a1a1a" stroke-width="1.0"/>
<text x="288.38" y="423.60" font-size="5.7" fill="#333" stroke="#333" stroke-width="0.2" text-anchor="middle" dominant-baseline="central">60</text>
<line x1="297.66" y1="414.30" x2="297.66" y2="416.70" stroke="#1a1a1a" stroke-width="1.0"/>
<text x="297.66" y="423.60" font-size="5.7" fill="#333" stroke="#333" stroke-width="0.2" text-anchor="middle" dominant-baseline="central">72</text>
<line x1="306.93" y1="414.30" x2="306.93" y2="416.70" stroke="#1a1a1a" stroke-width="1.0"/>
<text x="306.93" y="423.60" font-size="5.7" fill="#333" stroke="#333" stroke-width="0.2" text-anchor="middle" dominant-baseline="central">84</text>
<line x1="316.21" y1="414.30" x2="316.21" y2="416.70" stroke="#1a1a1a" stroke-width="1.0"/>
<text x="316.21" y="423.60" font-size="5.7" fill="#333" stroke="#333" stroke-width="0.2" text-anchor="middle" dominant-baseline="central">96</text>
<line x1="325.48" y1="414.30" x2="325.48" y2="416.70" stroke="#1a1a1a" stroke-width="1.0"/>
<text x="325.48" y="423.60" font-size="5.7" fill="#333" stroke="#333" stroke-width="0.2" text-anchor="middle" dominant-baseline="central">108</text>
<line x1="334.76" y1="414.30" x2="334.76" y2="416.70" stroke="#1a1a1a" stroke-width="1.0"/>
<text x="334.76" y="423.60" font-size="5.7" fill="#333" stroke="#333" stroke-width="0.2" text-anchor="middle" dominant-baseline="central">120</text>
<text x="284.50" y="434.80" font-size="8.2" fill="#222" word-spacing="1.2" letter-spacing="0.2" text-anchor="middle" font-weight="bold" textLength="61.30" lengthAdjust="spacingAndGlyphs" dominant-baseline="central">Follow up time (months)</text>
<text x="355.90" y="254.00" font-size="11.0" fill="#111" font-weight="bold">G</text>
<text x="407.8" y="262.3" font-size="8.2" fill="#222" dominant-baseline="central" textLength="105.5" lengthAdjust="spacingAndGlyphs">Non-D816 KIT<tspan font-size="5.3" dy="-2.0">pos</tspan><tspan dy="2.0"> t(8;21) AML</tspan></text>
<line x1="411.50" y1="272.00" x2="411.50" y2="358.80" stroke="#1a1a1a" stroke-width="1.1"/>
<line x1="411.00" y1="358.30" x2="509.30" y2="358.30" stroke="#1a1a1a" stroke-width="1.1"/>
<line x1="408.30" y1="354.60" x2="411.50" y2="354.60" stroke="#1a1a1a" stroke-width="1.0"/>
<text x="406.00" y="354.60" font-size="5.7" fill="#333" stroke="#333" stroke-width="0.2" text-anchor="end" dominant-baseline="central">0%</text>
<line x1="408.30" y1="334.50" x2="411.50" y2="334.50" stroke="#1a1a1a" stroke-width="1.0"/>
<text x="406.00" y="334.50" font-size="5.7" fill="#333" stroke="#333" stroke-width="0.2" text-anchor="end" dominant-baseline="central">25%</text>
<line x1="408.30" y1="314.40" x2="411.50" y2="314.40" stroke="#1a1a1a" stroke-width="1.0"/>
<text x="406.00" y="314.40" font-size="5.7" fill="#333" stroke="#333" stroke-width="0.2" text-anchor="end" dominant-baseline="central">50%</text>
<line x1="408.30" y1="294.30" x2="411.50" y2="294.30" stroke="#1a1a1a" stroke-width="1.0"/>
<text x="406.00" y="294.30" font-size="5.7" fill="#333" stroke="#333" stroke-width="0.2" text-anchor="end" dominant-baseline="central">75%</text>
<line x1="408.30" y1="274.20" x2="411.50" y2="274.20" stroke="#1a1a1a" stroke-width="1.0"/>
<text x="406.00" y="274.20" font-size="5.7" fill="#333" stroke="#333" stroke-width="0.2" text-anchor="end" dominant-baseline="central">100%</text>
<line x1="418.20" y1="358.30" x2="418.20" y2="360.70" stroke="#1a1a1a" stroke-width="1.0"/>
<text x="418.20" y="367.10" font-size="6.0" fill="#333" stroke="#333" stroke-width="0.2" text-anchor="middle" dominant-baseline="central">0</text>
<line x1="428.76" y1="358.30" x2="428.76" y2="360.70" stroke="#1a1a1a" stroke-width="1.0"/>
<text x="428.76" y="367.10" font-size="6.0" fill="#333" stroke="#333" stroke-width="0.2" text-anchor="middle" dominant-baseline="central">12</text>
<line x1="439.32" y1="358.30" x2="439.32" y2="360.70" stroke="#1a1a1a" stroke-width="1.0"/>
<text x="439.32" y="367.10" font-size="6.0" fill="#333" stroke="#333" stroke-width="0.2" text-anchor="middle" dominant-baseline="central">24</text>
<line x1="449.88" y1="358.30" x2="449.88" y2="360.70" stroke="#1a1a1a" stroke-width="1.0"/>
<text x="449.88" y="367.10" font-size="6.0" fill="#333" stroke="#333" stroke-width="0.2" text-anchor="middle" dominant-baseline="central">36</text>
<line x1="460.44" y1="358.30" x2="460.44" y2="360.70" stroke="#1a1a1a" stroke-width="1.0"/>
<text x="460.44" y="367.10" font-size="6.0" fill="#333" stroke="#333" stroke-width="0.2" text-anchor="middle" dominant-baseline="central">48</text>
<line x1="471.00" y1="358.30" x2="471.00" y2="360.70" stroke="#1a1a1a" stroke-width="1.0"/>
<text x="471.00" y="367.10" font-size="6.0" fill="#333" stroke="#333" stroke-width="0.2" text-anchor="middle" dominant-baseline="central">60</text>
<line x1="481.56" y1="358.30" x2="481.56" y2="360.70" stroke="#1a1a1a" stroke-width="1.0"/>
<text x="481.56" y="367.10" font-size="6.0" fill="#333" stroke="#333" stroke-width="0.2" text-anchor="middle" dominant-baseline="central">72</text>
<line x1="492.12" y1="358.30" x2="492.12" y2="360.70" stroke="#1a1a1a" stroke-width="1.0"/>
<text x="492.12" y="367.10" font-size="6.0" fill="#333" stroke="#333" stroke-width="0.2" text-anchor="middle" dominant-baseline="central">84</text>
<line x1="502.68" y1="358.30" x2="502.68" y2="360.70" stroke="#1a1a1a" stroke-width="1.0"/>
<text x="502.68" y="367.10" font-size="6.0" fill="#333" stroke="#333" stroke-width="0.2" text-anchor="middle" dominant-baseline="central">96</text>
<text x="382.00" y="313.50" font-size="8.2" fill="#2a2a2a" text-anchor="middle" font-weight="bold" textLength="37.00" lengthAdjust="spacingAndGlyphs" dominant-baseline="central" transform="rotate(-90 382.00 313.50)">Overall survival</text>
<path d="M418.30 273.80H420.45V274.35H422.60V274.90H425.20V275.90H427.90V278.60H430.50V280.70H433.20V281.20H434.20V284.40H435.50V285.50V293.40H440.60V299.20H457.00V306.60H509.50" fill="none" stroke="#3b5a82" stroke-width="1.2" stroke-linejoin="miter"/>
<path d="M418.30 273.80H420.70V275.15H423.10V276.50H423.90V278.35H424.70V280.20H427.90V282.30H430.50V284.40H433.20V286.50H436.30V289.20H450.60H451.65V291.30H452.70V293.40H511.00" fill="none" stroke="#bd2d4d" stroke-width="1.2" stroke-linejoin="miter"/>
<line x1="438.00" y1="287.80" x2="438.00" y2="290.60" stroke="#bd2d4d" stroke-width="1.0"/>
<line x1="441.00" y1="287.80" x2="441.00" y2="290.60" stroke="#bd2d4d" stroke-width="1.0"/>
<line x1="444.00" y1="287.80" x2="444.00" y2="290.60" stroke="#bd2d4d" stroke-width="1.0"/>
<line x1="447.00" y1="287.80" x2="447.00" y2="290.60" stroke="#bd2d4d" stroke-width="1.0"/>
<line x1="450.00" y1="287.80" x2="450.00" y2="290.60" stroke="#bd2d4d" stroke-width="1.0"/>
<line x1="455.00" y1="292.00" x2="455.00" y2="294.80" stroke="#bd2d4d" stroke-width="1.0"/>
<line x1="460.00" y1="292.00" x2="460.00" y2="294.80" stroke="#bd2d4d" stroke-width="1.0"/>
<line x1="464.00" y1="292.00" x2="464.00" y2="294.80" stroke="#bd2d4d" stroke-width="1.0"/>
<line x1="468.00" y1="292.00" x2="468.00" y2="294.80" stroke="#bd2d4d" stroke-width="1.0"/>
<line x1="472.00" y1="292.00" x2="472.00" y2="294.80" stroke="#bd2d4d" stroke-width="1.0"/>
<line x1="476.00" y1="292.00" x2="476.00" y2="294.80" stroke="#bd2d4d" stroke-width="1.0"/>
<line x1="481.00" y1="292.00" x2="481.00" y2="294.80" stroke="#bd2d4d" stroke-width="1.0"/>
<line x1="486.00" y1="292.00" x2="486.00" y2="294.80" stroke="#bd2d4d" stroke-width="1.0"/>
<line x1="491.00" y1="292.00" x2="491.00" y2="294.80" stroke="#bd2d4d" stroke-width="1.0"/>
<line x1="497.00" y1="292.00" x2="497.00" y2="294.80" stroke="#bd2d4d" stroke-width="1.0"/>
<line x1="503.00" y1="292.00" x2="503.00" y2="294.80" stroke="#bd2d4d" stroke-width="1.0"/>
<line x1="510.00" y1="292.00" x2="510.00" y2="294.80" stroke="#bd2d4d" stroke-width="1.0"/>
<line x1="445.00" y1="297.80" x2="445.00" y2="300.60" stroke="#3b5a82" stroke-width="1.0"/>
<line x1="448.00" y1="297.80" x2="448.00" y2="300.60" stroke="#3b5a82" stroke-width="1.0"/>
<line x1="452.00" y1="297.80" x2="452.00" y2="300.60" stroke="#3b5a82" stroke-width="1.0"/>
<line x1="455.00" y1="297.80" x2="455.00" y2="300.60" stroke="#3b5a82" stroke-width="1.0"/>
<line x1="462.00" y1="305.20" x2="462.00" y2="308.00" stroke="#3b5a82" stroke-width="1.0"/>
<line x1="475.00" y1="305.20" x2="475.00" y2="308.00" stroke="#3b5a82" stroke-width="1.0"/>
<line x1="480.00" y1="305.20" x2="480.00" y2="308.00" stroke="#3b5a82" stroke-width="1.0"/>
<line x1="490.00" y1="305.20" x2="490.00" y2="308.00" stroke="#3b5a82" stroke-width="1.0"/>
<line x1="507.00" y1="305.20" x2="507.00" y2="308.00" stroke="#3b5a82" stroke-width="1.0"/>
<line x1="420.00" y1="273.60" x2="420.00" y2="276.40" stroke="#3b5a82" stroke-width="1.0"/>
<line x1="422.00" y1="273.60" x2="422.00" y2="276.40" stroke="#3b5a82" stroke-width="1.0"/>
<line x1="425.00" y1="273.60" x2="425.00" y2="276.40" stroke="#3b5a82" stroke-width="1.0"/>
<text x="419.60" y="339.00" font-size="6.0" fill="#333" dominant-baseline="central"><tspan font-style="italic">P</tspan> = .5</text>
<line x1="455.40" y1="275.30" x2="460.50" y2="275.30" stroke="#3b5a82" stroke-width="1.1"/>
<line x1="457.95" y1="274.10" x2="457.95" y2="276.50" stroke="#3b5a82" stroke-width="0.9"/>
<text x="464.50" y="275.30" font-size="6.0" fill="#333" stroke="#333" stroke-width="0.2" textLength="48.70" lengthAdjust="spacingAndGlyphs" dominant-baseline="central">Without allo-HSCT</text>
<line x1="455.40" y1="285.00" x2="460.50" y2="285.00" stroke="#bd2d4d" stroke-width="1.1"/>
<line x1="457.95" y1="283.80" x2="457.95" y2="286.20" stroke="#bd2d4d" stroke-width="0.9"/>
<text x="464.50" y="285.00" font-size="6.0" fill="#333" stroke="#333" stroke-width="0.2" textLength="40.60" lengthAdjust="spacingAndGlyphs" dominant-baseline="central">With allo-HSCT</text>
<text x="460.30" y="378.00" font-size="8.2" fill="#222" word-spacing="1.2" letter-spacing="0.2" text-anchor="middle" font-weight="bold" textLength="61.00" lengthAdjust="spacingAndGlyphs" dominant-baseline="central">Follow up time (months)</text>
<text x="411.40" y="389.40" font-size="5.7" fill="#333" stroke="#333" stroke-width="0.2" font-style="italic" textLength="38.00" lengthAdjust="spacingAndGlyphs" dominant-baseline="central">Number at risk</text>
<line x1="411.50" y1="395.20" x2="411.50" y2="414.80" stroke="#1a1a1a" stroke-width="1.1"/>
<line x1="411.00" y1="414.30" x2="509.30" y2="414.30" stroke="#1a1a1a" stroke-width="1.1"/>
<line x1="408.30" y1="398.80" x2="411.50" y2="398.80" stroke="#1a1a1a" stroke-width="1.0"/>
<text x="404.80" y="398.80" font-size="5.7" fill="#3a6aa8" stroke="#3a6aa8" stroke-width="0.2" text-anchor="end" textLength="49.50" lengthAdjust="spacingAndGlyphs" dominant-baseline="central">Without allo-HSCT</text>
<text x="418.20" y="398.80" font-size="5.7" fill="#333" stroke="#333" stroke-width="0.2" text-anchor="middle" dominant-baseline="central">106</text>
<text x="428.76" y="398.80" font-size="5.7" fill="#333" stroke="#333" stroke-width="0.2" text-anchor="middle" dominant-baseline="central">38</text>
<text x="439.32" y="398.80" font-size="5.7" fill="#333" stroke="#333" stroke-width="0.2" text-anchor="middle" dominant-baseline="central">22</text>
<text x="449.88" y="398.80" font-size="5.7" fill="#333" stroke="#333" stroke-width="0.2" text-anchor="middle" dominant-baseline="central">13</text>
<text x="460.44" y="398.80" font-size="5.7" fill="#333" stroke="#333" stroke-width="0.2" text-anchor="middle" dominant-baseline="central">6</text>
<text x="471.00" y="398.80" font-size="5.7" fill="#333" stroke="#333" stroke-width="0.2" text-anchor="middle" dominant-baseline="central">4</text>
<text x="481.56" y="398.80" font-size="5.7" fill="#333" stroke="#333" stroke-width="0.2" text-anchor="middle" dominant-baseline="central">1</text>
<text x="492.12" y="398.80" font-size="5.7" fill="#333" stroke="#333" stroke-width="0.2" text-anchor="middle" dominant-baseline="central">1</text>
<text x="502.68" y="398.80" font-size="5.7" fill="#333" stroke="#333" stroke-width="0.2" text-anchor="middle" dominant-baseline="central">1</text>
<line x1="408.30" y1="408.40" x2="411.50" y2="408.40" stroke="#1a1a1a" stroke-width="1.0"/>
<text x="404.80" y="408.40" font-size="5.7" fill="#c8284a" stroke="#c8284a" stroke-width="0.2" text-anchor="end" textLength="41.50" lengthAdjust="spacingAndGlyphs" dominant-baseline="central">With allo-HSCT</text>
<text x="418.20" y="408.40" font-size="5.7" fill="#333" stroke="#333" stroke-width="0.2" text-anchor="middle" dominant-baseline="central">0</text>
<text x="428.76" y="408.40" font-size="5.7" fill="#333" stroke="#333" stroke-width="0.2" text-anchor="middle" dominant-baseline="central">46</text>
<text x="439.32" y="408.40" font-size="5.7" fill="#333" stroke="#333" stroke-width="0.2" text-anchor="middle" dominant-baseline="central">40</text>
<text x="449.88" y="408.40" font-size="5.7" fill="#333" stroke="#333" stroke-width="0.2" text-anchor="middle" dominant-baseline="central">31</text>
<text x="460.44" y="408.40" font-size="5.7" fill="#333" stroke="#333" stroke-width="0.2" text-anchor="middle" dominant-baseline="central">20</text>
<text x="471.00" y="408.40" font-size="5.7" fill="#333" stroke="#333" stroke-width="0.2" text-anchor="middle" dominant-baseline="central">11</text>
<text x="481.56" y="408.40" font-size="5.7" fill="#333" stroke="#333" stroke-width="0.2" text-anchor="middle" dominant-baseline="central">6</text>
<text x="492.12" y="408.40" font-size="5.7" fill="#333" stroke="#333" stroke-width="0.2" text-anchor="middle" dominant-baseline="central">1</text>
<text x="502.68" y="408.40" font-size="5.7" fill="#333" stroke="#333" stroke-width="0.2" text-anchor="middle" dominant-baseline="central">1</text>
<line x1="418.20" y1="414.30" x2="418.20" y2="416.70" stroke="#1a1a1a" stroke-width="1.0"/>
<text x="418.20" y="423.60" font-size="5.7" fill="#333" stroke="#333" stroke-width="0.2" text-anchor="middle" dominant-baseline="central">0</text>
<line x1="428.76" y1="414.30" x2="428.76" y2="416.70" stroke="#1a1a1a" stroke-width="1.0"/>
<text x="428.76" y="423.60" font-size="5.7" fill="#333" stroke="#333" stroke-width="0.2" text-anchor="middle" dominant-baseline="central">12</text>
<line x1="439.32" y1="414.30" x2="439.32" y2="416.70" stroke="#1a1a1a" stroke-width="1.0"/>
<text x="439.32" y="423.60" font-size="5.7" fill="#333" stroke="#333" stroke-width="0.2" text-anchor="middle" dominant-baseline="central">24</text>
<line x1="449.88" y1="414.30" x2="449.88" y2="416.70" stroke="#1a1a1a" stroke-width="1.0"/>
<text x="449.88" y="423.60" font-size="5.7" fill="#333" stroke="#333" stroke-width="0.2" text-anchor="middle" dominant-baseline="central">36</text>
<line x1="460.44" y1="414.30" x2="460.44" y2="416.70" stroke="#1a1a1a" stroke-width="1.0"/>
<text x="460.44" y="423.60" font-size="5.7" fill="#333" stroke="#333" stroke-width="0.2" text-anchor="middle" dominant-baseline="central">48</text>
<line x1="471.00" y1="414.30" x2="471.00" y2="416.70" stroke="#1a1a1a" stroke-width="1.0"/>
<text x="471.00" y="423.60" font-size="5.7" fill="#333" stroke="#333" stroke-width="0.2" text-anchor="middle" dominant-baseline="central">60</text>
<line x1="481.56" y1="414.30" x2="481.56" y2="416.70" stroke="#1a1a1a" stroke-width="1.0"/>
<text x="481.56" y="423.60" font-size="5.7" fill="#333" stroke="#333" stroke-width="0.2" text-anchor="middle" dominant-baseline="central">72</text>
<line x1="492.12" y1="414.30" x2="492.12" y2="416.70" stroke="#1a1a1a" stroke-width="1.0"/>
<text x="492.12" y="423.60" font-size="5.7" fill="#333" stroke="#333" stroke-width="0.2" text-anchor="middle" dominant-baseline="central">84</text>
<line x1="502.68" y1="414.30" x2="502.68" y2="416.70" stroke="#1a1a1a" stroke-width="1.0"/>
<text x="502.68" y="423.60" font-size="5.7" fill="#333" stroke="#333" stroke-width="0.2" text-anchor="middle" dominant-baseline="central">96</text>
<text x="460.30" y="434.80" font-size="8.2" fill="#222" word-spacing="1.2" letter-spacing="0.2" text-anchor="middle" font-weight="bold" textLength="61.00" lengthAdjust="spacingAndGlyphs" dominant-baseline="central">Follow up time (months)</text>
<text x="6.50" y="454.80" font-size="11.0" fill="#111" font-weight="bold">D</text>
<line x1="62.00" y1="459.00" x2="62.00" y2="545.80" stroke="#1a1a1a" stroke-width="1.1"/>
<line x1="61.50" y1="545.30" x2="158.60" y2="545.30" stroke="#1a1a1a" stroke-width="1.1"/>
<line x1="58.80" y1="541.20" x2="62.00" y2="541.20" stroke="#1a1a1a" stroke-width="1.0"/>
<text x="56.80" y="541.20" font-size="5.7" fill="#333" stroke="#333" stroke-width="0.2" text-anchor="end" dominant-baseline="central">0%</text>
<line x1="58.80" y1="521.23" x2="62.00" y2="521.23" stroke="#1a1a1a" stroke-width="1.0"/>
<text x="56.80" y="521.23" font-size="5.7" fill="#333" stroke="#333" stroke-width="0.2" text-anchor="end" dominant-baseline="central">25%</text>
<line x1="58.80" y1="501.25" x2="62.00" y2="501.25" stroke="#1a1a1a" stroke-width="1.0"/>
<text x="56.80" y="501.25" font-size="5.7" fill="#333" stroke="#333" stroke-width="0.2" text-anchor="end" dominant-baseline="central">50%</text>
<line x1="58.80" y1="481.28" x2="62.00" y2="481.28" stroke="#1a1a1a" stroke-width="1.0"/>
<text x="56.80" y="481.28" font-size="5.7" fill="#333" stroke="#333" stroke-width="0.2" text-anchor="end" dominant-baseline="central">75%</text>
<line x1="58.80" y1="461.30" x2="62.00" y2="461.30" stroke="#1a1a1a" stroke-width="1.0"/>
<text x="56.80" y="461.30" font-size="5.7" fill="#333" stroke="#333" stroke-width="0.2" text-anchor="end" dominant-baseline="central">100%</text>
<line x1="68.90" y1="545.30" x2="68.90" y2="547.70" stroke="#1a1a1a" stroke-width="1.0"/>
<text x="68.90" y="554.50" font-size="6.0" fill="#333" stroke="#333" stroke-width="0.2" text-anchor="middle" dominant-baseline="central">0</text>
<line x1="79.16" y1="545.30" x2="79.16" y2="547.70" stroke="#1a1a1a" stroke-width="1.0"/>
<text x="79.16" y="554.50" font-size="6.0" fill="#333" stroke="#333" stroke-width="0.2" text-anchor="middle" dominant-baseline="central">6</text>
<line x1="89.42" y1="545.30" x2="89.42" y2="547.70" stroke="#1a1a1a" stroke-width="1.0"/>
<text x="89.42" y="554.50" font-size="6.0" fill="#333" stroke="#333" stroke-width="0.2" text-anchor="middle" dominant-baseline="central">12</text>
<line x1="99.68" y1="545.30" x2="99.68" y2="547.70" stroke="#1a1a1a" stroke-width="1.0"/>
<text x="99.68" y="554.50" font-size="6.0" fill="#333" stroke="#333" stroke-width="0.2" text-anchor="middle" dominant-baseline="central">18</text>
<line x1="109.94" y1="545.30" x2="109.94" y2="547.70" stroke="#1a1a1a" stroke-width="1.0"/>
<text x="109.94" y="554.50" font-size="6.0" fill="#333" stroke="#333" stroke-width="0.2" text-anchor="middle" dominant-baseline="central">24</text>
<line x1="120.20" y1="545.30" x2="120.20" y2="547.70" stroke="#1a1a1a" stroke-width="1.0"/>
<text x="120.20" y="554.50" font-size="6.0" fill="#333" stroke="#333" stroke-width="0.2" text-anchor="middle" dominant-baseline="central">30</text>
<line x1="130.46" y1="545.30" x2="130.46" y2="547.70" stroke="#1a1a1a" stroke-width="1.0"/>
<text x="130.46" y="554.50" font-size="6.0" fill="#333" stroke="#333" stroke-width="0.2" text-anchor="middle" dominant-baseline="central">36</text>
<line x1="140.72" y1="545.30" x2="140.72" y2="547.70" stroke="#1a1a1a" stroke-width="1.0"/>
<text x="140.72" y="554.50" font-size="6.0" fill="#333" stroke="#333" stroke-width="0.2" text-anchor="middle" dominant-baseline="central">42</text>
<line x1="150.98" y1="545.30" x2="150.98" y2="547.70" stroke="#1a1a1a" stroke-width="1.0"/>
<text x="150.98" y="554.50" font-size="6.0" fill="#333" stroke="#333" stroke-width="0.2" text-anchor="middle" dominant-baseline="central">48</text>
<text x="32.80" y="500.90" font-size="8.2" fill="#2a2a2a" text-anchor="middle" font-weight="bold" textLength="46.30" lengthAdjust="spacingAndGlyphs" dominant-baseline="central" transform="rotate(-90 32.80 500.90)">Event-free survival</text>
<line x1="68.90" y1="501.10" x2="81.40" y2="501.10" stroke="#444" stroke-width="0.8" stroke-dasharray="1,1"/>
<line x1="81.60" y1="509.50" x2="81.60" y2="544.60" stroke="#444" stroke-width="0.8" stroke-dasharray="1,1"/>
<path d="M68.50 461.40H90.50V477.30H119.50" fill="none" stroke="#bd2d4d" stroke-width="1.2" stroke-linejoin="miter"/>
<path d="M68.50 461.40H70.20H71.20V464.50H71.57V466.40H71.93V468.30H72.30V470.20H72.80V472.55H73.30V474.90H75.60H76.10V477.50H76.60V480.10H77.50V480.60H77.67V482.50H77.83V484.40H78.00V486.30H79.00V487.70H79.13V489.60H79.27V491.50H79.40V493.40H81.30V509.00H89.90V541.00" fill="none" stroke="#3b5a82" stroke-width="1.2" stroke-linejoin="miter"/>
<line x1="78.70" y1="459.90" x2="78.70" y2="462.70" stroke="#bd2d4d" stroke-width="1.0"/>
<line x1="86.30" y1="459.90" x2="86.30" y2="462.70" stroke="#bd2d4d" stroke-width="1.0"/>
<line x1="98.40" y1="475.80" x2="98.40" y2="478.60" stroke="#bd2d4d" stroke-width="1.0"/>
<line x1="103.20" y1="475.80" x2="103.20" y2="478.60" stroke="#bd2d4d" stroke-width="1.0"/>
<line x1="84.50" y1="507.60" x2="84.50" y2="510.40" stroke="#3b5a82" stroke-width="1.0"/>
<line x1="87.50" y1="507.60" x2="87.50" y2="510.40" stroke="#3b5a82" stroke-width="1.0"/>
<line x1="75.00" y1="473.70" x2="75.00" y2="476.50" stroke="#3b5a82" stroke-width="1.0"/>
<text x="65.20" y="524.80" font-size="6.0" fill="#333" dominant-baseline="central"><tspan font-style="italic">P</tspan> = .019</text>
<line x1="96.90" y1="491.40" x2="102.60" y2="491.40" stroke="#3b5a82" stroke-width="1.1"/>
<line x1="99.75" y1="490.20" x2="99.75" y2="492.60" stroke="#3b5a82" stroke-width="0.9"/>
<text x="105.30" y="491.40" font-size="6.0" fill="#333" stroke="#333" stroke-width="0.2" textLength="49.10" lengthAdjust="spacingAndGlyphs" dominant-baseline="central">Without allo-HSCT</text>
<line x1="96.90" y1="501.10" x2="102.60" y2="501.10" stroke="#bd2d4d" stroke-width="1.1"/>
<line x1="99.75" y1="499.90" x2="99.75" y2="502.30" stroke="#bd2d4d" stroke-width="0.9"/>
<text x="105.30" y="501.10" font-size="6.0" fill="#333" stroke="#333" stroke-width="0.2" textLength="41.40" lengthAdjust="spacingAndGlyphs" dominant-baseline="central">With allo-HSCT</text>
<text x="111.50" y="565.00" font-size="8.2" fill="#222" word-spacing="1.2" letter-spacing="0.2" text-anchor="middle" font-weight="bold" textLength="60.30" lengthAdjust="spacingAndGlyphs" dominant-baseline="central">Follow up time (months)</text>
<text x="62.70" y="575.70" font-size="5.7" fill="#333" stroke="#333" stroke-width="0.2" textLength="38.00" lengthAdjust="spacingAndGlyphs" dominant-baseline="central">Number at risk</text>
<line x1="62.00" y1="582.40" x2="62.00" y2="602.00" stroke="#1a1a1a" stroke-width="1.1"/>
<line x1="61.50" y1="601.50" x2="158.60" y2="601.50" stroke="#1a1a1a" stroke-width="1.1"/>
<line x1="58.80" y1="586.00" x2="62.00" y2="586.00" stroke="#1a1a1a" stroke-width="1.0"/>
<text x="56.00" y="586.00" font-size="5.7" fill="#3a6aa8" stroke="#3a6aa8" stroke-width="0.2" text-anchor="end" textLength="50.30" lengthAdjust="spacingAndGlyphs" dominant-baseline="central">Without allo-HSCT</text>
<text x="68.90" y="586.00" font-size="5.7" fill="#333" stroke="#333" stroke-width="0.2" text-anchor="middle" dominant-baseline="central">22</text>
<text x="79.16" y="586.00" font-size="5.7" fill="#333" stroke="#333" stroke-width="0.2" text-anchor="middle" dominant-baseline="central">8</text>
<text x="89.42" y="586.00" font-size="5.7" fill="#333" stroke="#333" stroke-width="0.2" text-anchor="middle" dominant-baseline="central">2</text>
<text x="99.68" y="586.00" font-size="5.7" fill="#333" stroke="#333" stroke-width="0.2" text-anchor="middle" dominant-baseline="central">0</text>
<text x="109.94" y="586.00" font-size="5.7" fill="#333" stroke="#333" stroke-width="0.2" text-anchor="middle" dominant-baseline="central">0</text>
<text x="120.20" y="586.00" font-size="5.7" fill="#333" stroke="#333" stroke-width="0.2" text-anchor="middle" dominant-baseline="central">0</text>
<text x="130.46" y="586.00" font-size="5.7" fill="#333" stroke="#333" stroke-width="0.2" text-anchor="middle" dominant-baseline="central">0</text>
<text x="140.72" y="586.00" font-size="5.7" fill="#333" stroke="#333" stroke-width="0.2" text-anchor="middle" dominant-baseline="central">0</text>
<text x="150.98" y="586.00" font-size="5.7" fill="#333" stroke="#333" stroke-width="0.2" text-anchor="middle" dominant-baseline="central">0</text>
<line x1="58.80" y1="595.30" x2="62.00" y2="595.30" stroke="#1a1a1a" stroke-width="1.0"/>
<text x="56.00" y="595.30" font-size="5.7" fill="#c8284a" stroke="#c8284a" stroke-width="0.2" text-anchor="end" textLength="41.50" lengthAdjust="spacingAndGlyphs" dominant-baseline="central">With allo-HSCT</text>
<text x="68.90" y="595.30" font-size="5.7" fill="#333" stroke="#333" stroke-width="0.2" text-anchor="middle" dominant-baseline="central">0</text>
<text x="79.16" y="595.30" font-size="5.7" fill="#333" stroke="#333" stroke-width="0.2" text-anchor="middle" dominant-baseline="central">6</text>
<text x="89.42" y="595.30" font-size="5.7" fill="#333" stroke="#333" stroke-width="0.2" text-anchor="middle" dominant-baseline="central">5</text>
<text x="99.68" y="595.30" font-size="5.7" fill="#333" stroke="#333" stroke-width="0.2" text-anchor="middle" dominant-baseline="central">3</text>
<text x="109.94" y="595.30" font-size="5.7" fill="#333" stroke="#333" stroke-width="0.2" text-anchor="middle" dominant-baseline="central">2</text>
<text x="120.20" y="595.30" font-size="5.7" fill="#333" stroke="#333" stroke-width="0.2" text-anchor="middle" dominant-baseline="central">2</text>
<text x="130.46" y="595.30" font-size="5.7" fill="#333" stroke="#333" stroke-width="0.2" text-anchor="middle" dominant-baseline="central">2</text>
<text x="140.72" y="595.30" font-size="5.7" fill="#333" stroke="#333" stroke-width="0.2" text-anchor="middle" dominant-baseline="central">1</text>
<text x="150.98" y="595.30" font-size="5.7" fill="#333" stroke="#333" stroke-width="0.2" text-anchor="middle" dominant-baseline="central">1</text>
<line x1="68.90" y1="601.50" x2="68.90" y2="603.90" stroke="#1a1a1a" stroke-width="1.0"/>
<text x="68.90" y="610.70" font-size="5.7" fill="#333" stroke="#333" stroke-width="0.2" text-anchor="middle" dominant-baseline="central">0</text>
<line x1="79.16" y1="601.50" x2="79.16" y2="603.90" stroke="#1a1a1a" stroke-width="1.0"/>
<text x="79.16" y="610.70" font-size="5.7" fill="#333" stroke="#333" stroke-width="0.2" text-anchor="middle" dominant-baseline="central">6</text>
<line x1="89.42" y1="601.50" x2="89.42" y2="603.90" stroke="#1a1a1a" stroke-width="1.0"/>
<text x="89.42" y="610.70" font-size="5.7" fill="#333" stroke="#333" stroke-width="0.2" text-anchor="middle" dominant-baseline="central">12</text>
<line x1="99.68" y1="601.50" x2="99.68" y2="603.90" stroke="#1a1a1a" stroke-width="1.0"/>
<text x="99.68" y="610.70" font-size="5.7" fill="#333" stroke="#333" stroke-width="0.2" text-anchor="middle" dominant-baseline="central">18</text>
<line x1="109.94" y1="601.50" x2="109.94" y2="603.90" stroke="#1a1a1a" stroke-width="1.0"/>
<text x="109.94" y="610.70" font-size="5.7" fill="#333" stroke="#333" stroke-width="0.2" text-anchor="middle" dominant-baseline="central">24</text>
<line x1="120.20" y1="601.50" x2="120.20" y2="603.90" stroke="#1a1a1a" stroke-width="1.0"/>
<text x="120.20" y="610.70" font-size="5.7" fill="#333" stroke="#333" stroke-width="0.2" text-anchor="middle" dominant-baseline="central">30</text>
<line x1="130.46" y1="601.50" x2="130.46" y2="603.90" stroke="#1a1a1a" stroke-width="1.0"/>
<text x="130.46" y="610.70" font-size="5.7" fill="#333" stroke="#333" stroke-width="0.2" text-anchor="middle" dominant-baseline="central">36</text>
<line x1="140.72" y1="601.50" x2="140.72" y2="603.90" stroke="#1a1a1a" stroke-width="1.0"/>
<text x="140.72" y="610.70" font-size="5.7" fill="#333" stroke="#333" stroke-width="0.2" text-anchor="middle" dominant-baseline="central">42</text>
<line x1="150.98" y1="601.50" x2="150.98" y2="603.90" stroke="#1a1a1a" stroke-width="1.0"/>
<text x="150.98" y="610.70" font-size="5.7" fill="#333" stroke="#333" stroke-width="0.2" text-anchor="middle" dominant-baseline="central">48</text>
<text x="111.50" y="621.30" font-size="8.2" fill="#222" word-spacing="1.2" letter-spacing="0.2" text-anchor="middle" font-weight="bold" textLength="60.30" lengthAdjust="spacingAndGlyphs" dominant-baseline="central">Follow up time (months)</text>
<text x="181.00" y="454.70" font-size="11.0" fill="#111" font-weight="bold">F</text>
<line x1="236.50" y1="459.00" x2="236.50" y2="545.80" stroke="#1a1a1a" stroke-width="1.1"/>
<line x1="236.00" y1="545.30" x2="335.60" y2="545.30" stroke="#1a1a1a" stroke-width="1.1"/>
<line x1="233.30" y1="541.30" x2="236.50" y2="541.30" stroke="#1a1a1a" stroke-width="1.0"/>
<text x="232.80" y="541.30" font-size="5.7" fill="#333" stroke="#333" stroke-width="0.2" text-anchor="end" dominant-baseline="central">0%</text>
<line x1="233.30" y1="521.30" x2="236.50" y2="521.30" stroke="#1a1a1a" stroke-width="1.0"/>
<text x="232.80" y="521.30" font-size="5.7" fill="#333" stroke="#333" stroke-width="0.2" text-anchor="end" dominant-baseline="central">25%</text>
<line x1="233.30" y1="501.30" x2="236.50" y2="501.30" stroke="#1a1a1a" stroke-width="1.0"/>
<text x="232.80" y="501.30" font-size="5.7" fill="#333" stroke="#333" stroke-width="0.2" text-anchor="end" dominant-baseline="central">50%</text>
<line x1="233.30" y1="481.30" x2="236.50" y2="481.30" stroke="#1a1a1a" stroke-width="1.0"/>
<text x="232.80" y="481.30" font-size="5.7" fill="#333" stroke="#333" stroke-width="0.2" text-anchor="end" dominant-baseline="central">75%</text>
<line x1="233.30" y1="461.30" x2="236.50" y2="461.30" stroke="#1a1a1a" stroke-width="1.0"/>
<text x="232.80" y="461.30" font-size="5.7" fill="#333" stroke="#333" stroke-width="0.2" text-anchor="end" dominant-baseline="central">100%</text>
<line x1="242.80" y1="545.30" x2="242.80" y2="547.70" stroke="#1a1a1a" stroke-width="1.0"/>
<text x="242.80" y="554.50" font-size="6.0" fill="#333" stroke="#333" stroke-width="0.2" text-anchor="middle" dominant-baseline="central">0</text>
<line x1="253.41" y1="545.30" x2="253.41" y2="547.70" stroke="#1a1a1a" stroke-width="1.0"/>
<text x="253.41" y="554.50" font-size="6.0" fill="#333" stroke="#333" stroke-width="0.2" text-anchor="middle" dominant-baseline="central">12</text>
<line x1="264.02" y1="545.30" x2="264.02" y2="547.70" stroke="#1a1a1a" stroke-width="1.0"/>
<text x="264.02" y="554.50" font-size="6.0" fill="#333" stroke="#333" stroke-width="0.2" text-anchor="middle" dominant-baseline="central">24</text>
<line x1="274.62" y1="545.30" x2="274.62" y2="547.70" stroke="#1a1a1a" stroke-width="1.0"/>
<text x="274.62" y="554.50" font-size="6.0" fill="#333" stroke="#333" stroke-width="0.2" text-anchor="middle" dominant-baseline="central">36</text>
<line x1="285.23" y1="545.30" x2="285.23" y2="547.70" stroke="#1a1a1a" stroke-width="1.0"/>
<text x="285.23" y="554.50" font-size="6.0" fill="#333" stroke="#333" stroke-width="0.2" text-anchor="middle" dominant-baseline="central">48</text>
<line x1="295.84" y1="545.30" x2="295.84" y2="547.70" stroke="#1a1a1a" stroke-width="1.0"/>
<text x="295.84" y="554.50" font-size="6.0" fill="#333" stroke="#333" stroke-width="0.2" text-anchor="middle" dominant-baseline="central">60</text>
<line x1="306.45" y1="545.30" x2="306.45" y2="547.70" stroke="#1a1a1a" stroke-width="1.0"/>
<text x="306.45" y="554.50" font-size="6.0" fill="#333" stroke="#333" stroke-width="0.2" text-anchor="middle" dominant-baseline="central">72</text>
<line x1="317.06" y1="545.30" x2="317.06" y2="547.70" stroke="#1a1a1a" stroke-width="1.0"/>
<text x="317.06" y="554.50" font-size="6.0" fill="#333" stroke="#333" stroke-width="0.2" text-anchor="middle" dominant-baseline="central">84</text>
<line x1="327.66" y1="545.30" x2="327.66" y2="547.70" stroke="#1a1a1a" stroke-width="1.0"/>
<text x="327.66" y="554.50" font-size="6.0" fill="#333" stroke="#333" stroke-width="0.2" text-anchor="middle" dominant-baseline="central">96</text>
<text x="207.70" y="500.90" font-size="8.2" fill="#2a2a2a" text-anchor="middle" font-weight="bold" textLength="46.30" lengthAdjust="spacingAndGlyphs" dominant-baseline="central" transform="rotate(-90 207.70 500.90)">Event-free survival</text>
<line x1="242.80" y1="501.30" x2="261.70" y2="501.30" stroke="#777" stroke-width="0.6"/>
<line x1="253.70" y1="503.00" x2="253.70" y2="545.00" stroke="#444" stroke-width="0.8" stroke-dasharray="1,1"/>
<line x1="262.80" y1="502.00" x2="262.80" y2="545.00" stroke="#444" stroke-width="0.8" stroke-dasharray="1,1"/>
<path d="M243.20 461.50H244.20V464.20H244.97V466.32H245.75V468.45H246.53V470.57H247.30V472.70H248.05V475.35H248.80V478.00H250.40V479.40V488.80H250.77V491.00H251.13V493.20H251.50V495.40H253.50V498.00H253.73V500.07H253.97V502.13H254.20V504.20H255.00V506.00H255.80V507.80H323.70V524.30H325.00" fill="none" stroke="#3b5a82" stroke-width="1.2" stroke-linejoin="miter"/>
<path d="M243.20 461.50H246.70V473.40H252.20H254.30V476.20H255.35V478.10H256.40V480.00H256.95V482.30H257.50V484.60H258.00V486.73H258.50V488.87H259.00V491.00H259.85V493.65H260.70V496.30H261.20V498.90H261.70V501.50H263.80V503.20H267.00V505.30H326.50" fill="none" stroke="#bd2d4d" stroke-width="1.2" stroke-linejoin="miter"/>
<line x1="270.00" y1="503.90" x2="270.00" y2="506.70" stroke="#bd2d4d" stroke-width="1.0"/>
<line x1="272.00" y1="503.90" x2="272.00" y2="506.70" stroke="#bd2d4d" stroke-width="1.0"/>
<line x1="276.00" y1="503.90" x2="276.00" y2="506.70" stroke="#bd2d4d" stroke-width="1.0"/>
<line x1="279.00" y1="503.90" x2="279.00" y2="506.70" stroke="#bd2d4d" stroke-width="1.0"/>
<line x1="283.00" y1="503.90" x2="283.00" y2="506.70" stroke="#bd2d4d" stroke-width="1.0"/>
<line x1="287.00" y1="503.90" x2="287.00" y2="506.70" stroke="#bd2d4d" stroke-width="1.0"/>
<line x1="290.00" y1="503.90" x2="290.00" y2="506.70" stroke="#bd2d4d" stroke-width="1.0"/>
<line x1="294.00" y1="503.90" x2="294.00" y2="506.70" stroke="#bd2d4d" stroke-width="1.0"/>
<line x1="297.00" y1="503.90" x2="297.00" y2="506.70" stroke="#bd2d4d" stroke-width="1.0"/>
<line x1="300.00" y1="503.90" x2="300.00" y2="506.70" stroke="#bd2d4d" stroke-width="1.0"/>
<line x1="304.00" y1="503.90" x2="304.00" y2="506.70" stroke="#bd2d4d" stroke-width="1.0"/>
<line x1="308.00" y1="503.90" x2="308.00" y2="506.70" stroke="#bd2d4d" stroke-width="1.0"/>
<line x1="325.00" y1="503.90" x2="325.00" y2="506.70" stroke="#bd2d4d" stroke-width="1.0"/>
<line x1="326.50" y1="503.90" x2="326.50" y2="506.70" stroke="#bd2d4d" stroke-width="1.0"/>
<line x1="258.00" y1="506.40" x2="258.00" y2="509.20" stroke="#3b5a82" stroke-width="1.0"/>
<line x1="283.00" y1="506.40" x2="283.00" y2="509.20" stroke="#3b5a82" stroke-width="1.0"/>
<line x1="298.00" y1="506.40" x2="298.00" y2="509.20" stroke="#3b5a82" stroke-width="1.0"/>
<line x1="306.00" y1="506.40" x2="306.00" y2="509.20" stroke="#3b5a82" stroke-width="1.0"/>
<text x="241.60" y="524.80" font-size="6.0" fill="#333" dominant-baseline="central"><tspan font-style="italic">P</tspan> = .328</text>
<line x1="271.90" y1="474.00" x2="277.60" y2="474.00" stroke="#3b5a82" stroke-width="1.1"/>
<line x1="274.75" y1="472.80" x2="274.75" y2="475.20" stroke="#3b5a82" stroke-width="0.9"/>
<text x="280.30" y="474.00" font-size="6.0" fill="#333" stroke="#333" stroke-width="0.2" textLength="49.70" lengthAdjust="spacingAndGlyphs" dominant-baseline="central">Without allo-HSCT</text>
<line x1="271.90" y1="483.60" x2="277.60" y2="483.60" stroke="#bd2d4d" stroke-width="1.1"/>
<line x1="274.75" y1="482.40" x2="274.75" y2="484.80" stroke="#bd2d4d" stroke-width="0.9"/>
<text x="280.30" y="483.60" font-size="6.0" fill="#333" stroke="#333" stroke-width="0.2" textLength="41.40" lengthAdjust="spacingAndGlyphs" dominant-baseline="central">With allo-HSCT</text>
<text x="287.00" y="565.00" font-size="8.2" fill="#222" word-spacing="1.2" letter-spacing="0.2" text-anchor="middle" font-weight="bold" textLength="61.00" lengthAdjust="spacingAndGlyphs" dominant-baseline="central">Follow up time (months)</text>
<text x="238.00" y="575.70" font-size="5.7" fill="#333" stroke="#333" stroke-width="0.2" textLength="38.00" lengthAdjust="spacingAndGlyphs" dominant-baseline="central">Number at risk</text>
<line x1="236.50" y1="582.40" x2="236.50" y2="602.00" stroke="#1a1a1a" stroke-width="1.1"/>
<line x1="236.00" y1="601.50" x2="335.60" y2="601.50" stroke="#1a1a1a" stroke-width="1.1"/>
<line x1="233.30" y1="586.00" x2="236.50" y2="586.00" stroke="#1a1a1a" stroke-width="1.0"/>
<text x="231.00" y="586.00" font-size="5.7" fill="#3a6aa8" stroke="#3a6aa8" stroke-width="0.2" text-anchor="end" textLength="50.30" lengthAdjust="spacingAndGlyphs" dominant-baseline="central">Without allo-HSCT</text>
<text x="242.80" y="586.00" font-size="5.7" fill="#333" stroke="#333" stroke-width="0.2" text-anchor="middle" dominant-baseline="central">74</text>
<text x="253.41" y="586.00" font-size="5.7" fill="#333" stroke="#333" stroke-width="0.2" text-anchor="middle" dominant-baseline="central">14</text>
<text x="264.02" y="586.00" font-size="5.7" fill="#333" stroke="#333" stroke-width="0.2" text-anchor="middle" dominant-baseline="central">5</text>
<text x="274.62" y="586.00" font-size="5.7" fill="#333" stroke="#333" stroke-width="0.2" text-anchor="middle" dominant-baseline="central">4</text>
<text x="285.23" y="586.00" font-size="5.7" fill="#333" stroke="#333" stroke-width="0.2" text-anchor="middle" dominant-baseline="central">4</text>
<text x="295.84" y="586.00" font-size="5.7" fill="#333" stroke="#333" stroke-width="0.2" text-anchor="middle" dominant-baseline="central">3</text>
<text x="306.45" y="586.00" font-size="5.7" fill="#333" stroke="#333" stroke-width="0.2" text-anchor="middle" dominant-baseline="central">3</text>
<text x="317.06" y="586.00" font-size="5.7" fill="#333" stroke="#333" stroke-width="0.2" text-anchor="middle" dominant-baseline="central">2</text>
<text x="327.66" y="586.00" font-size="5.7" fill="#333" stroke="#333" stroke-width="0.2" text-anchor="middle" dominant-baseline="central">0</text>
<line x1="233.30" y1="595.30" x2="236.50" y2="595.30" stroke="#1a1a1a" stroke-width="1.0"/>
<text x="231.00" y="595.30" font-size="5.7" fill="#c8284a" stroke="#c8284a" stroke-width="0.2" text-anchor="end" textLength="41.50" lengthAdjust="spacingAndGlyphs" dominant-baseline="central">With allo-HSCT</text>
<text x="242.80" y="595.30" font-size="5.7" fill="#333" stroke="#333" stroke-width="0.2" text-anchor="middle" dominant-baseline="central">0</text>
<text x="253.41" y="595.30" font-size="5.7" fill="#333" stroke="#333" stroke-width="0.2" text-anchor="middle" dominant-baseline="central">27</text>
<text x="264.02" y="595.30" font-size="5.7" fill="#333" stroke="#333" stroke-width="0.2" text-anchor="middle" dominant-baseline="central">15</text>
<text x="274.62" y="595.30" font-size="5.7" fill="#333" stroke="#333" stroke-width="0.2" text-anchor="middle" dominant-baseline="central">11</text>
<text x="285.23" y="595.30" font-size="5.7" fill="#333" stroke="#333" stroke-width="0.2" text-anchor="middle" dominant-baseline="central">8</text>
<text x="295.84" y="595.30" font-size="5.7" fill="#333" stroke="#333" stroke-width="0.2" text-anchor="middle" dominant-baseline="central">6</text>
<text x="306.45" y="595.30" font-size="5.7" fill="#333" stroke="#333" stroke-width="0.2" text-anchor="middle" dominant-baseline="central">3</text>
<text x="317.06" y="595.30" font-size="5.7" fill="#333" stroke="#333" stroke-width="0.2" text-anchor="middle" dominant-baseline="central">3</text>
<text x="327.66" y="595.30" font-size="5.7" fill="#333" stroke="#333" stroke-width="0.2" text-anchor="middle" dominant-baseline="central">0</text>
<line x1="242.80" y1="601.50" x2="242.80" y2="603.90" stroke="#1a1a1a" stroke-width="1.0"/>
<text x="242.80" y="610.70" font-size="5.7" fill="#333" stroke="#333" stroke-width="0.2" text-anchor="middle" dominant-baseline="central">0</text>
<line x1="253.41" y1="601.50" x2="253.41" y2="603.90" stroke="#1a1a1a" stroke-width="1.0"/>
<text x="253.41" y="610.70" font-size="5.7" fill="#333" stroke="#333" stroke-width="0.2" text-anchor="middle" dominant-baseline="central">12</text>
<line x1="264.02" y1="601.50" x2="264.02" y2="603.90" stroke="#1a1a1a" stroke-width="1.0"/>
<text x="264.02" y="610.70" font-size="5.7" fill="#333" stroke="#333" stroke-width="0.2" text-anchor="middle" dominant-baseline="central">24</text>
<line x1="274.62" y1="601.50" x2="274.62" y2="603.90" stroke="#1a1a1a" stroke-width="1.0"/>
<text x="274.62" y="610.70" font-size="5.7" fill="#333" stroke="#333" stroke-width="0.2" text-anchor="middle" dominant-baseline="central">36</text>
<line x1="285.23" y1="601.50" x2="285.23" y2="603.90" stroke="#1a1a1a" stroke-width="1.0"/>
<text x="285.23" y="610.70" font-size="5.7" fill="#333" stroke="#333" stroke-width="0.2" text-anchor="middle" dominant-baseline="central">48</text>
<line x1="295.84" y1="601.50" x2="295.84" y2="603.90" stroke="#1a1a1a" stroke-width="1.0"/>
<text x="295.84" y="610.70" font-size="5.7" fill="#333" stroke="#333" stroke-width="0.2" text-anchor="middle" dominant-baseline="central">60</text>
<line x1="306.45" y1="601.50" x2="306.45" y2="603.90" stroke="#1a1a1a" stroke-width="1.0"/>
<text x="306.45" y="610.70" font-size="5.7" fill="#333" stroke="#333" stroke-width="0.2" text-anchor="middle" dominant-baseline="central">72</text>
<line x1="317.06" y1="601.50" x2="317.06" y2="603.90" stroke="#1a1a1a" stroke-width="1.0"/>
<text x="317.06" y="610.70" font-size="5.7" fill="#333" stroke="#333" stroke-width="0.2" text-anchor="middle" dominant-baseline="central">84</text>
<line x1="327.66" y1="601.50" x2="327.66" y2="603.90" stroke="#1a1a1a" stroke-width="1.0"/>
<text x="327.66" y="610.70" font-size="5.7" fill="#333" stroke="#333" stroke-width="0.2" text-anchor="middle" dominant-baseline="central">96</text>
<text x="287.00" y="621.30" font-size="8.2" fill="#222" word-spacing="1.2" letter-spacing="0.2" text-anchor="middle" font-weight="bold" textLength="61.00" lengthAdjust="spacingAndGlyphs" dominant-baseline="central">Follow up time (months)</text>
<text x="355.30" y="454.70" font-size="11.0" fill="#111" font-weight="bold">H</text>
<line x1="411.50" y1="459.00" x2="411.50" y2="545.80" stroke="#1a1a1a" stroke-width="1.1"/>
<line x1="411.00" y1="545.30" x2="510.80" y2="545.30" stroke="#1a1a1a" stroke-width="1.1"/>
<line x1="408.30" y1="541.30" x2="411.50" y2="541.30" stroke="#1a1a1a" stroke-width="1.0"/>
<text x="407.00" y="541.30" font-size="5.7" fill="#333" stroke="#333" stroke-width="0.2" text-anchor="end" dominant-baseline="central">0%</text>
<line x1="408.30" y1="521.30" x2="411.50" y2="521.30" stroke="#1a1a1a" stroke-width="1.0"/>
<text x="407.00" y="521.30" font-size="5.7" fill="#333" stroke="#333" stroke-width="0.2" text-anchor="end" dominant-baseline="central">25%</text>
<line x1="408.30" y1="501.30" x2="411.50" y2="501.30" stroke="#1a1a1a" stroke-width="1.0"/>
<text x="407.00" y="501.30" font-size="5.7" fill="#333" stroke="#333" stroke-width="0.2" text-anchor="end" dominant-baseline="central">50%</text>
<line x1="408.30" y1="481.30" x2="411.50" y2="481.30" stroke="#1a1a1a" stroke-width="1.0"/>
<text x="407.00" y="481.30" font-size="5.7" fill="#333" stroke="#333" stroke-width="0.2" text-anchor="end" dominant-baseline="central">75%</text>
<line x1="408.30" y1="461.30" x2="411.50" y2="461.30" stroke="#1a1a1a" stroke-width="1.0"/>
<text x="407.00" y="461.30" font-size="5.7" fill="#333" stroke="#333" stroke-width="0.2" text-anchor="end" dominant-baseline="central">100%</text>
<line x1="418.10" y1="545.30" x2="418.10" y2="547.70" stroke="#1a1a1a" stroke-width="1.0"/>
<text x="418.10" y="554.50" font-size="6.0" fill="#333" stroke="#333" stroke-width="0.2" text-anchor="middle" dominant-baseline="central">0</text>
<line x1="428.67" y1="545.30" x2="428.67" y2="547.70" stroke="#1a1a1a" stroke-width="1.0"/>
<text x="428.67" y="554.50" font-size="6.0" fill="#333" stroke="#333" stroke-width="0.2" text-anchor="middle" dominant-baseline="central">12</text>
<line x1="439.24" y1="545.30" x2="439.24" y2="547.70" stroke="#1a1a1a" stroke-width="1.0"/>
<text x="439.24" y="554.50" font-size="6.0" fill="#333" stroke="#333" stroke-width="0.2" text-anchor="middle" dominant-baseline="central">24</text>
<line x1="449.82" y1="545.30" x2="449.82" y2="547.70" stroke="#1a1a1a" stroke-width="1.0"/>
<text x="449.82" y="554.50" font-size="6.0" fill="#333" stroke="#333" stroke-width="0.2" text-anchor="middle" dominant-baseline="central">36</text>
<line x1="460.39" y1="545.30" x2="460.39" y2="547.70" stroke="#1a1a1a" stroke-width="1.0"/>
<text x="460.39" y="554.50" font-size="6.0" fill="#333" stroke="#333" stroke-width="0.2" text-anchor="middle" dominant-baseline="central">48</text>
<line x1="470.96" y1="545.30" x2="470.96" y2="547.70" stroke="#1a1a1a" stroke-width="1.0"/>
<text x="470.96" y="554.50" font-size="6.0" fill="#333" stroke="#333" stroke-width="0.2" text-anchor="middle" dominant-baseline="central">60</text>
<line x1="481.53" y1="545.30" x2="481.53" y2="547.70" stroke="#1a1a1a" stroke-width="1.0"/>
<text x="481.53" y="554.50" font-size="6.0" fill="#333" stroke="#333" stroke-width="0.2" text-anchor="middle" dominant-baseline="central">72</text>
<line x1="492.10" y1="545.30" x2="492.10" y2="547.70" stroke="#1a1a1a" stroke-width="1.0"/>
<text x="492.10" y="554.50" font-size="6.0" fill="#333" stroke="#333" stroke-width="0.2" text-anchor="middle" dominant-baseline="central">84</text>
<line x1="502.68" y1="545.30" x2="502.68" y2="547.70" stroke="#1a1a1a" stroke-width="1.0"/>
<text x="502.68" y="554.50" font-size="6.0" fill="#333" stroke="#333" stroke-width="0.2" text-anchor="middle" dominant-baseline="central">96</text>
<text x="382.00" y="500.90" font-size="8.2" fill="#2a2a2a" text-anchor="middle" font-weight="bold" textLength="46.30" lengthAdjust="spacingAndGlyphs" dominant-baseline="central" transform="rotate(-90 382.00 500.90)">Event-free survival</text>
<line x1="418.10" y1="501.00" x2="434.20" y2="501.00" stroke="#777" stroke-width="0.6"/>
<line x1="434.40" y1="501.00" x2="434.40" y2="545.00" stroke="#444" stroke-width="0.8" stroke-dasharray="1,1"/>
<path d="M418.10 461.50H418.90V463.75H419.70V466.00H421.15V468.20H422.60V470.40H423.57V472.33H424.53V474.27H425.50V476.20H426.13V478.10H426.77V480.00H427.40V481.90H428.20V484.17H429.00V486.43H429.80V488.70H430.75V491.10H431.70V493.50H432.67V496.00H433.63V498.50H434.60V501.00H455.80V507.60H508.10" fill="none" stroke="#3b5a82" stroke-width="1.2" stroke-linejoin="miter"/>
<path d="M418.10 461.50H422.40V467.50H423.20V469.20H424.00V470.90H426.40V472.80H428.80V474.20H431.20V475.70H431.45V477.95H431.70V480.20H449.00H450.50V482.80H477.10V494.40H510.60" fill="none" stroke="#bd2d4d" stroke-width="1.2" stroke-linejoin="miter"/>
<line x1="434.00" y1="478.80" x2="434.00" y2="481.60" stroke="#bd2d4d" stroke-width="1.0"/>
<line x1="437.00" y1="478.80" x2="437.00" y2="481.60" stroke="#bd2d4d" stroke-width="1.0"/>
<line x1="441.00" y1="478.80" x2="441.00" y2="481.60" stroke="#bd2d4d" stroke-width="1.0"/>
<line x1="444.00" y1="478.80" x2="444.00" y2="481.60" stroke="#bd2d4d" stroke-width="1.0"/>
<line x1="448.00" y1="478.80" x2="448.00" y2="481.60" stroke="#bd2d4d" stroke-width="1.0"/>
<line x1="452.00" y1="481.40" x2="452.00" y2="484.20" stroke="#bd2d4d" stroke-width="1.0"/>
<line x1="455.00" y1="481.40" x2="455.00" y2="484.20" stroke="#bd2d4d" stroke-width="1.0"/>
<line x1="457.00" y1="481.40" x2="457.00" y2="484.20" stroke="#bd2d4d" stroke-width="1.0"/>
<line x1="459.00" y1="481.40" x2="459.00" y2="484.20" stroke="#bd2d4d" stroke-width="1.0"/>
<line x1="461.60" y1="481.40" x2="461.60" y2="484.20" stroke="#bd2d4d" stroke-width="1.0"/>
<line x1="463.00" y1="481.40" x2="463.00" y2="484.20" stroke="#bd2d4d" stroke-width="1.0"/>
<line x1="466.00" y1="481.40" x2="466.00" y2="484.20" stroke="#bd2d4d" stroke-width="1.0"/>
<line x1="468.50" y1="481.40" x2="468.50" y2="484.20" stroke="#bd2d4d" stroke-width="1.0"/>
<line x1="471.00" y1="481.40" x2="471.00" y2="484.20" stroke="#bd2d4d" stroke-width="1.0"/>
<line x1="476.50" y1="481.40" x2="476.50" y2="484.20" stroke="#bd2d4d" stroke-width="1.0"/>
<line x1="483.50" y1="493.00" x2="483.50" y2="495.80" stroke="#bd2d4d" stroke-width="1.0"/>
<line x1="487.50" y1="493.00" x2="487.50" y2="495.80" stroke="#bd2d4d" stroke-width="1.0"/>
<line x1="509.70" y1="493.00" x2="509.70" y2="495.80" stroke="#bd2d4d" stroke-width="1.0"/>
<line x1="437.00" y1="499.60" x2="437.00" y2="502.40" stroke="#3b5a82" stroke-width="1.0"/>
<line x1="440.00" y1="499.60" x2="440.00" y2="502.40" stroke="#3b5a82" stroke-width="1.0"/>
<line x1="443.00" y1="499.60" x2="443.00" y2="502.40" stroke="#3b5a82" stroke-width="1.0"/>
<line x1="446.00" y1="499.60" x2="446.00" y2="502.40" stroke="#3b5a82" stroke-width="1.0"/>
<line x1="449.00" y1="499.60" x2="449.00" y2="502.40" stroke="#3b5a82" stroke-width="1.0"/>
<line x1="452.00" y1="499.60" x2="452.00" y2="502.40" stroke="#3b5a82" stroke-width="1.0"/>
<line x1="455.50" y1="499.60" x2="455.50" y2="502.40" stroke="#3b5a82" stroke-width="1.0"/>
<line x1="473.20" y1="506.20" x2="473.20" y2="509.00" stroke="#3b5a82" stroke-width="1.0"/>
<line x1="476.40" y1="506.20" x2="476.40" y2="509.00" stroke="#3b5a82" stroke-width="1.0"/>
<line x1="507.60" y1="506.20" x2="507.60" y2="509.00" stroke="#3b5a82" stroke-width="1.0"/>
<text x="415.60" y="524.80" font-size="6.0" fill="#333" dominant-baseline="central"><tspan font-style="italic">P</tspan> = .075</text>
<line x1="449.40" y1="523.10" x2="455.30" y2="523.10" stroke="#3b5a82" stroke-width="1.1"/>
<line x1="452.35" y1="521.90" x2="452.35" y2="524.30" stroke="#3b5a82" stroke-width="0.9"/>
<text x="457.90" y="523.10" font-size="6.0" fill="#333" stroke="#333" stroke-width="0.2" textLength="49.70" lengthAdjust="spacingAndGlyphs" dominant-baseline="central">Without allo-HSCT</text>
<line x1="449.40" y1="532.90" x2="455.30" y2="532.90" stroke="#bd2d4d" stroke-width="1.1"/>
<line x1="452.35" y1="531.70" x2="452.35" y2="534.10" stroke="#bd2d4d" stroke-width="0.9"/>
<text x="457.90" y="532.90" font-size="6.0" fill="#333" stroke="#333" stroke-width="0.2" textLength="41.40" lengthAdjust="spacingAndGlyphs" dominant-baseline="central">With allo-HSCT</text>
<text x="460.30" y="565.00" font-size="8.2" fill="#222" word-spacing="1.2" letter-spacing="0.2" text-anchor="middle" font-weight="bold" textLength="61.00" lengthAdjust="spacingAndGlyphs" dominant-baseline="central">Follow up time (months)</text>
<text x="411.40" y="575.70" font-size="5.7" fill="#333" stroke="#333" stroke-width="0.2" font-style="italic" textLength="38.00" lengthAdjust="spacingAndGlyphs" dominant-baseline="central">Number at risk</text>
<line x1="411.50" y1="582.40" x2="411.50" y2="602.00" stroke="#1a1a1a" stroke-width="1.1"/>
<line x1="411.00" y1="601.50" x2="510.80" y2="601.50" stroke="#1a1a1a" stroke-width="1.1"/>
<line x1="408.30" y1="586.00" x2="411.50" y2="586.00" stroke="#1a1a1a" stroke-width="1.0"/>
<text x="404.80" y="586.00" font-size="5.7" fill="#3a6aa8" stroke="#3a6aa8" stroke-width="0.2" text-anchor="end" textLength="49.50" lengthAdjust="spacingAndGlyphs" dominant-baseline="central">Without allo-HSCT</text>
<text x="418.10" y="586.00" font-size="5.7" fill="#333" stroke="#333" stroke-width="0.2" text-anchor="middle" dominant-baseline="central">102</text>
<text x="428.67" y="586.00" font-size="5.7" fill="#333" stroke="#333" stroke-width="0.2" text-anchor="middle" dominant-baseline="central">28</text>
<text x="439.24" y="586.00" font-size="5.7" fill="#333" stroke="#333" stroke-width="0.2" text-anchor="middle" dominant-baseline="central">18</text>
<text x="449.82" y="586.00" font-size="5.7" fill="#333" stroke="#333" stroke-width="0.2" text-anchor="middle" dominant-baseline="central">9</text>
<text x="460.39" y="586.00" font-size="5.7" fill="#333" stroke="#333" stroke-width="0.2" text-anchor="middle" dominant-baseline="central">4</text>
<text x="470.96" y="586.00" font-size="5.7" fill="#333" stroke="#333" stroke-width="0.2" text-anchor="middle" dominant-baseline="central">4</text>
<text x="481.53" y="586.00" font-size="5.7" fill="#333" stroke="#333" stroke-width="0.2" text-anchor="middle" dominant-baseline="central">1</text>
<text x="492.10" y="586.00" font-size="5.7" fill="#333" stroke="#333" stroke-width="0.2" text-anchor="middle" dominant-baseline="central">1</text>
<text x="502.68" y="586.00" font-size="5.7" fill="#333" stroke="#333" stroke-width="0.2" text-anchor="middle" dominant-baseline="central">1</text>
<line x1="408.30" y1="595.30" x2="411.50" y2="595.30" stroke="#1a1a1a" stroke-width="1.0"/>
<text x="404.80" y="595.30" font-size="5.7" fill="#c8284a" stroke="#c8284a" stroke-width="0.2" text-anchor="end" textLength="41.50" lengthAdjust="spacingAndGlyphs" dominant-baseline="central">With allo-HSCT</text>
<text x="418.10" y="595.30" font-size="5.7" fill="#333" stroke="#333" stroke-width="0.2" text-anchor="middle" dominant-baseline="central">0</text>
<text x="428.67" y="595.30" font-size="5.7" fill="#333" stroke="#333" stroke-width="0.2" text-anchor="middle" dominant-baseline="central">40</text>
<text x="439.24" y="595.30" font-size="5.7" fill="#333" stroke="#333" stroke-width="0.2" text-anchor="middle" dominant-baseline="central">31</text>
<text x="449.82" y="595.30" font-size="5.7" fill="#333" stroke="#333" stroke-width="0.2" text-anchor="middle" dominant-baseline="central">24</text>
<text x="460.39" y="595.30" font-size="5.7" fill="#333" stroke="#333" stroke-width="0.2" text-anchor="middle" dominant-baseline="central">15</text>
<text x="470.96" y="595.30" font-size="5.7" fill="#333" stroke="#333" stroke-width="0.2" text-anchor="middle" dominant-baseline="central">9</text>
<text x="481.53" y="595.30" font-size="5.7" fill="#333" stroke="#333" stroke-width="0.2" text-anchor="middle" dominant-baseline="central">4</text>
<text x="492.10" y="595.30" font-size="5.7" fill="#333" stroke="#333" stroke-width="0.2" text-anchor="middle" dominant-baseline="central">1</text>
<text x="502.68" y="595.30" font-size="5.7" fill="#333" stroke="#333" stroke-width="0.2" text-anchor="middle" dominant-baseline="central">1</text>
<line x1="418.10" y1="601.50" x2="418.10" y2="603.90" stroke="#1a1a1a" stroke-width="1.0"/>
<text x="418.10" y="610.70" font-size="5.7" fill="#333" stroke="#333" stroke-width="0.2" text-anchor="middle" dominant-baseline="central">0</text>
<line x1="428.67" y1="601.50" x2="428.67" y2="603.90" stroke="#1a1a1a" stroke-width="1.0"/>
<text x="428.67" y="610.70" font-size="5.7" fill="#333" stroke="#333" stroke-width="0.2" text-anchor="middle" dominant-baseline="central">12</text>
<line x1="439.24" y1="601.50" x2="439.24" y2="603.90" stroke="#1a1a1a" stroke-width="1.0"/>
<text x="439.24" y="610.70" font-size="5.7" fill="#333" stroke="#333" stroke-width="0.2" text-anchor="middle" dominant-baseline="central">24</text>
<line x1="449.82" y1="601.50" x2="449.82" y2="603.90" stroke="#1a1a1a" stroke-width="1.0"/>
<text x="449.82" y="610.70" font-size="5.7" fill="#333" stroke="#333" stroke-width="0.2" text-anchor="middle" dominant-baseline="central">36</text>
<line x1="460.39" y1="601.50" x2="460.39" y2="603.90" stroke="#1a1a1a" stroke-width="1.0"/>
<text x="460.39" y="610.70" font-size="5.7" fill="#333" stroke="#333" stroke-width="0.2" text-anchor="middle" dominant-baseline="central">48</text>
<line x1="470.96" y1="601.50" x2="470.96" y2="603.90" stroke="#1a1a1a" stroke-width="1.0"/>
<text x="470.96" y="610.70" font-size="5.7" fill="#333" stroke="#333" stroke-width="0.2" text-anchor="middle" dominant-baseline="central">60</text>
<line x1="481.53" y1="601.50" x2="481.53" y2="603.90" stroke="#1a1a1a" stroke-width="1.0"/>
<text x="481.53" y="610.70" font-size="5.7" fill="#333" stroke="#333" stroke-width="0.2" text-anchor="middle" dominant-baseline="central">72</text>
<line x1="492.10" y1="601.50" x2="492.10" y2="603.90" stroke="#1a1a1a" stroke-width="1.0"/>
<text x="492.10" y="610.70" font-size="5.7" fill="#333" stroke="#333" stroke-width="0.2" text-anchor="middle" dominant-baseline="central">84</text>
<line x1="502.68" y1="601.50" x2="502.68" y2="603.90" stroke="#1a1a1a" stroke-width="1.0"/>
<text x="502.68" y="610.70" font-size="5.7" fill="#333" stroke="#333" stroke-width="0.2" text-anchor="middle" dominant-baseline="central">96</text>
<text x="460.30" y="621.30" font-size="8.2" fill="#222" word-spacing="1.2" letter-spacing="0.2" text-anchor="middle" font-weight="bold" textLength="61.00" lengthAdjust="spacingAndGlyphs" dominant-baseline="central">Follow up time (months)</text>
<rect x="0.5" y="0.5" width="519" height="632" fill="none" stroke="#5a5a5a" stroke-width="1"/>
</svg>
</body></html>
